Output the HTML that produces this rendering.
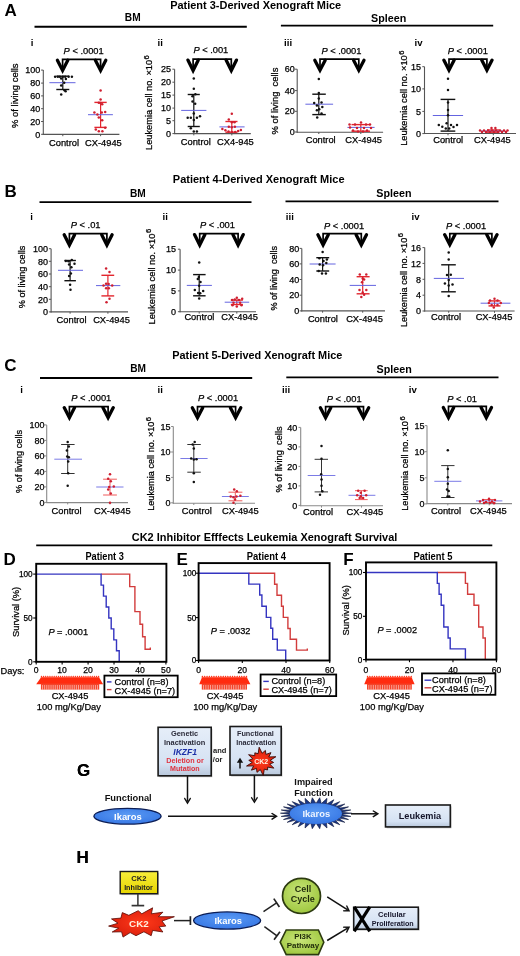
<!DOCTYPE html>
<html><head><meta charset="utf-8"><title>CK2 inhibitor xenograft figure</title>
<style>
html,body{margin:0;padding:0;background:#fff;}
body{width:520px;height:956px;overflow:hidden;}
svg{display:block;font-family:"Liberation Sans", sans-serif;will-change:transform;}
</style></head><body>
<svg width="520" height="956" viewBox="0 0 520 956">
<rect x="0" y="0" width="520" height="956" fill="#fff"/>
<text x="4.6" y="15.6" font-size="17" font-weight="bold">A</text>
<text x="4.6" y="196.8" font-size="17" font-weight="bold">B</text>
<text x="4.3" y="371.3" font-size="17" font-weight="bold">C</text>
<text x="3.6" y="565.4" font-size="17" font-weight="bold">D</text>
<text x="176.6" y="565.2" font-size="17" font-weight="bold">E</text>
<text x="343.2" y="565.2" font-size="17" font-weight="bold">F</text>
<text x="77" y="775.6" font-size="17" font-weight="bold">G</text>
<text x="76.4" y="862.6" font-size="17" font-weight="bold">H</text>
<text x="170.2" y="8.7" font-size="10.9" font-weight="bold" textLength="171" lengthAdjust="spacingAndGlyphs">Patient 3-Derived Xenograft Mice</text>
<text x="172.8" y="182.8" font-size="10.9" font-weight="bold" textLength="171.7" lengthAdjust="spacingAndGlyphs">Patient 4-Derived Xenograft Mice</text>
<text x="172.2" y="358.6" font-size="10.9" font-weight="bold" textLength="170.1" lengthAdjust="spacingAndGlyphs">Patient 5-Derived Xenograft Mice</text>
<text x="124.8" y="21.1" font-size="10.6" font-weight="bold" textLength="15.8" lengthAdjust="spacingAndGlyphs">BM</text>
<text x="371.1" y="21.8" font-size="10.8" font-weight="bold" textLength="35.2" lengthAdjust="spacingAndGlyphs">Spleen</text>
<line x1="34.5" y1="26.8" x2="246.8" y2="26.8" stroke="#000" stroke-width="1.9"/>
<line x1="280.9" y1="25.6" x2="493.2" y2="25.6" stroke="#000" stroke-width="1.9"/>
<text x="130" y="196.5" font-size="10.6" font-weight="bold" textLength="15.8" lengthAdjust="spacingAndGlyphs">BM</text>
<text x="376.3" y="197.2" font-size="10.8" font-weight="bold" textLength="35.2" lengthAdjust="spacingAndGlyphs">Spleen</text>
<line x1="39.5" y1="202.1" x2="251.5" y2="202.1" stroke="#000" stroke-width="1.9"/>
<line x1="285.5" y1="201.4" x2="498.5" y2="201.4" stroke="#000" stroke-width="1.9"/>
<text x="130.2" y="372.3" font-size="10.6" font-weight="bold" textLength="15.8" lengthAdjust="spacingAndGlyphs">BM</text>
<text x="376.6" y="373.4" font-size="10.8" font-weight="bold" textLength="35.2" lengthAdjust="spacingAndGlyphs">Spleen</text>
<line x1="40" y1="378" x2="252.2" y2="378" stroke="#000" stroke-width="1.9"/>
<line x1="286.3" y1="377.4" x2="498.5" y2="377.4" stroke="#000" stroke-width="1.9"/>
<text x="131.8" y="541.1" font-size="10.9" font-weight="bold" textLength="265.5" lengthAdjust="spacingAndGlyphs">CK2 Inhibitor Efffects Leukemia Xenograft Survival</text>
<line x1="36.2" y1="545.4" x2="492.3" y2="545.4" stroke="#000" stroke-width="1.9"/>
<text x="30.8" y="45.7" font-size="9.6" font-weight="bold">i</text>
<text x="63.6" y="53.9" font-size="9.3" stroke="#000" stroke-width="0.25"><tspan font-style="italic">P</tspan> &lt; .0001</text>
<path d="M57.4,60.3 L62.6,70.4 L67.8,60.3" fill="none" stroke="#000" stroke-width="3.3" stroke-linejoin="miter" stroke-miterlimit="10" stroke-linecap="round"/>
<path d="M95.4,60.3 L100.6,70.4 L105.8,60.3" fill="none" stroke="#000" stroke-width="3.3" stroke-linejoin="miter" stroke-miterlimit="10" stroke-linecap="round"/>
<path d="M62.6,70.2 V59.3 H100.6 V70.2" fill="none" stroke="#000" stroke-width="1.7"/>
<line x1="43.3" y1="70.1" x2="43.3" y2="134.9" stroke="#555" stroke-width="1.1"/>
<line x1="42.8" y1="134.4" x2="119.4" y2="134.4" stroke="#555" stroke-width="1.1"/>
<line x1="41.1" y1="134.3" x2="43.3" y2="134.3" stroke="#555" stroke-width="1"/>
<text x="40.3" y="137.5" font-size="9" text-anchor="end" stroke="#000" stroke-width="0.25">0</text>
<line x1="41.1" y1="121.5" x2="43.3" y2="121.5" stroke="#555" stroke-width="1"/>
<text x="40.3" y="124.69" font-size="9" text-anchor="end" stroke="#000" stroke-width="0.25">20</text>
<line x1="41.1" y1="108.7" x2="43.3" y2="108.7" stroke="#555" stroke-width="1"/>
<text x="40.3" y="111.89" font-size="9" text-anchor="end" stroke="#000" stroke-width="0.25">40</text>
<line x1="41.1" y1="95.9" x2="43.3" y2="95.9" stroke="#555" stroke-width="1"/>
<text x="40.3" y="99.09" font-size="9" text-anchor="end" stroke="#000" stroke-width="0.25">60</text>
<line x1="41.1" y1="83.1" x2="43.3" y2="83.1" stroke="#555" stroke-width="1"/>
<text x="40.3" y="86.29" font-size="9" text-anchor="end" stroke="#000" stroke-width="0.25">80</text>
<line x1="41.1" y1="70.1" x2="43.3" y2="70.1" stroke="#555" stroke-width="1"/>
<text x="40.3" y="73.29" font-size="9" text-anchor="end" stroke="#000" stroke-width="0.25">100</text>
<line x1="62.8" y1="134.4" x2="62.8" y2="136.2" stroke="#555" stroke-width="1"/>
<line x1="100.6" y1="134.4" x2="100.6" y2="136.2" stroke="#555" stroke-width="1"/>
<g transform="translate(17.8,128) rotate(-90)"><text x="0" y="0" font-size="9.3" textLength="64.6" lengthAdjust="spacingAndGlyphs" stroke="#000" stroke-width="0.25">% of living cells</text></g>
<text x="64" y="146" font-size="9.3" text-anchor="middle" stroke="#000" stroke-width="0.25">Control</text>
<text x="103.4" y="146" font-size="9.3" text-anchor="middle" stroke="#000" stroke-width="0.25">CX-4945</text>
<line x1="62.8" y1="76.2" x2="62.8" y2="89.5" stroke="#111" stroke-width="1.2"/>
<line x1="56.3" y1="76.2" x2="69.3" y2="76.2" stroke="#111" stroke-width="1.4"/>
<line x1="56.3" y1="89.5" x2="69.3" y2="89.5" stroke="#111" stroke-width="1.4"/>
<line x1="49.4" y1="82.7" x2="75.5" y2="82.7" stroke="#6464e0" stroke-width="1"/>
<circle cx="55.1" cy="76.7" r="1.25" fill="#111"/>
<circle cx="57.8" cy="76.7" r="1.25" fill="#111"/>
<circle cx="59.8" cy="76.7" r="1.25" fill="#111"/>
<circle cx="62.8" cy="76.7" r="1.25" fill="#111"/>
<circle cx="65.2" cy="76.7" r="1.25" fill="#111"/>
<circle cx="68.6" cy="76.7" r="1.25" fill="#111"/>
<circle cx="71.9" cy="76.7" r="1.25" fill="#111"/>
<circle cx="61.2" cy="78.4" r="1.25" fill="#111"/>
<circle cx="65.9" cy="79.1" r="1.25" fill="#111"/>
<circle cx="64.2" cy="82.7" r="1.25" fill="#111"/>
<circle cx="61.2" cy="85.5" r="1.25" fill="#111"/>
<circle cx="64.5" cy="90.2" r="1.25" fill="#111"/>
<circle cx="65.6" cy="91.2" r="1.25" fill="#111"/>
<circle cx="61.2" cy="94.6" r="1.25" fill="#111"/>
<line x1="100.6" y1="102.4" x2="100.6" y2="127.4" stroke="#e3262e" stroke-width="1.2"/>
<line x1="94.4" y1="102.4" x2="106.7" y2="102.4" stroke="#e3262e" stroke-width="1.4"/>
<line x1="94.4" y1="127.4" x2="106.7" y2="127.4" stroke="#e3262e" stroke-width="1.4"/>
<line x1="88" y1="114.7" x2="112.9" y2="114.7" stroke="#6464e0" stroke-width="1"/>
<circle cx="100.6" cy="90.4" r="1.25" fill="#cf1f30"/>
<circle cx="100.6" cy="99.5" r="1.25" fill="#cf1f30"/>
<circle cx="98.8" cy="102.8" r="1.25" fill="#cf1f30"/>
<circle cx="102.2" cy="104.2" r="1.25" fill="#cf1f30"/>
<circle cx="100.5" cy="103" r="1.25" fill="#cf1f30"/>
<circle cx="94.4" cy="112.5" r="1.25" fill="#cf1f30"/>
<circle cx="101.8" cy="112.5" r="1.25" fill="#cf1f30"/>
<circle cx="105.2" cy="112" r="1.25" fill="#cf1f30"/>
<circle cx="97.4" cy="114.6" r="1.25" fill="#cf1f30"/>
<circle cx="98.8" cy="117.6" r="1.25" fill="#cf1f30"/>
<circle cx="102.2" cy="120.3" r="1.25" fill="#cf1f30"/>
<circle cx="95.8" cy="129.4" r="1.25" fill="#cf1f30"/>
<circle cx="98.8" cy="131.3" r="1.25" fill="#cf1f30"/>
<circle cx="102.4" cy="131.3" r="1.25" fill="#cf1f30"/>
<circle cx="105.2" cy="127.7" r="1.25" fill="#cf1f30"/>
<text x="157.6" y="45.7" font-size="9.6" font-weight="bold">ii</text>
<text x="193.4" y="53.2" font-size="9.3" stroke="#000" stroke-width="0.25"><tspan font-style="italic">P</tspan> &lt; .001</text>
<path d="M187.9,60.1 L193.1,70.6 L198.3,60.1" fill="none" stroke="#000" stroke-width="3.3" stroke-linejoin="miter" stroke-miterlimit="10" stroke-linecap="round"/>
<path d="M226.1,60.1 L231.3,70.6 L236.5,60.1" fill="none" stroke="#000" stroke-width="3.3" stroke-linejoin="miter" stroke-miterlimit="10" stroke-linecap="round"/>
<path d="M193.1,70.4 V59.1 H231.3 V70.4" fill="none" stroke="#000" stroke-width="1.7"/>
<line x1="174.6" y1="69.2" x2="174.6" y2="134.1" stroke="#555" stroke-width="1.1"/>
<line x1="174.1" y1="133.6" x2="250.8" y2="133.6" stroke="#555" stroke-width="1.1"/>
<line x1="172.4" y1="133.6" x2="174.6" y2="133.6" stroke="#555" stroke-width="1"/>
<text x="170.9" y="136.79" font-size="9" text-anchor="end" stroke="#000" stroke-width="0.25">0</text>
<line x1="172.4" y1="120.7" x2="174.6" y2="120.7" stroke="#555" stroke-width="1"/>
<text x="170.9" y="123.89" font-size="9" text-anchor="end" stroke="#000" stroke-width="0.25">5</text>
<line x1="172.4" y1="108.1" x2="174.6" y2="108.1" stroke="#555" stroke-width="1"/>
<text x="170.9" y="111.29" font-size="9" text-anchor="end" stroke="#000" stroke-width="0.25">10</text>
<line x1="172.4" y1="95.1" x2="174.6" y2="95.1" stroke="#555" stroke-width="1"/>
<text x="170.9" y="98.29" font-size="9" text-anchor="end" stroke="#000" stroke-width="0.25">15</text>
<line x1="172.4" y1="82.2" x2="174.6" y2="82.2" stroke="#555" stroke-width="1"/>
<text x="170.9" y="85.39" font-size="9" text-anchor="end" stroke="#000" stroke-width="0.25">20</text>
<line x1="172.4" y1="69.2" x2="174.6" y2="69.2" stroke="#555" stroke-width="1"/>
<text x="170.9" y="72.39" font-size="9" text-anchor="end" stroke="#000" stroke-width="0.25">25</text>
<line x1="193.8" y1="133.6" x2="193.8" y2="135.4" stroke="#555" stroke-width="1"/>
<line x1="231.8" y1="133.6" x2="231.8" y2="135.4" stroke="#555" stroke-width="1"/>
<g transform="translate(151.9,149.9) rotate(-90)"><text x="0" y="0" font-size="9.3" textLength="90" lengthAdjust="spacingAndGlyphs" stroke="#000" stroke-width="0.25">Leukemia cell no. ×10</text></g>
<g transform="translate(148.7,59.5) rotate(-90)"><text x="0" y="0" font-size="7.6" stroke="#000" stroke-width="0.25">6</text></g>
<text x="195.8" y="145.4" font-size="9.3" text-anchor="middle" stroke="#000" stroke-width="0.25">Control</text>
<text x="235.4" y="145.4" font-size="9.3" text-anchor="middle" stroke="#000" stroke-width="0.25">CX4-945</text>
<line x1="193.8" y1="94.5" x2="193.8" y2="126.5" stroke="#111" stroke-width="1.2"/>
<line x1="187.7" y1="94.5" x2="199.8" y2="94.5" stroke="#111" stroke-width="1.4"/>
<line x1="187.7" y1="126.5" x2="199.8" y2="126.5" stroke="#111" stroke-width="1.4"/>
<line x1="181.2" y1="110.4" x2="206.4" y2="110.4" stroke="#6464e0" stroke-width="1"/>
<circle cx="193.8" cy="78.6" r="1.25" fill="#111"/>
<circle cx="193.8" cy="88.8" r="1.25" fill="#111"/>
<circle cx="195.4" cy="94.2" r="1.25" fill="#111"/>
<circle cx="192.5" cy="96.2" r="1.25" fill="#111"/>
<circle cx="192.5" cy="101.5" r="1.25" fill="#111"/>
<circle cx="195.2" cy="103.7" r="1.25" fill="#111"/>
<circle cx="193.8" cy="113.5" r="1.25" fill="#111"/>
<circle cx="187.7" cy="117.8" r="1.25" fill="#111"/>
<circle cx="190.8" cy="117.8" r="1.25" fill="#111"/>
<circle cx="196.9" cy="117.8" r="1.25" fill="#111"/>
<circle cx="200" cy="116.3" r="1.25" fill="#111"/>
<circle cx="193.8" cy="120" r="1.25" fill="#111"/>
<circle cx="190.8" cy="128.3" r="1.25" fill="#111"/>
<circle cx="193.8" cy="131.5" r="1.25" fill="#111"/>
<circle cx="196.9" cy="131.5" r="1.25" fill="#111"/>
<line x1="231.8" y1="121.5" x2="231.8" y2="132.2" stroke="#e3262e" stroke-width="1.2"/>
<line x1="225.4" y1="121.5" x2="237.5" y2="121.5" stroke="#e3262e" stroke-width="1.4"/>
<line x1="225.4" y1="132.2" x2="237.5" y2="132.2" stroke="#e3262e" stroke-width="1.4"/>
<line x1="219.4" y1="126.9" x2="244.6" y2="126.9" stroke="#6464e0" stroke-width="1"/>
<circle cx="231.8" cy="113.7" r="1.25" fill="#cf1f30"/>
<circle cx="228.8" cy="119.5" r="1.25" fill="#cf1f30"/>
<circle cx="231.8" cy="122.2" r="1.25" fill="#cf1f30"/>
<circle cx="234.5" cy="122.2" r="1.25" fill="#cf1f30"/>
<circle cx="228.8" cy="126.7" r="1.25" fill="#cf1f30"/>
<circle cx="231.8" cy="127.2" r="1.25" fill="#cf1f30"/>
<circle cx="234.9" cy="126.7" r="1.25" fill="#cf1f30"/>
<circle cx="222.4" cy="128.9" r="1.25" fill="#cf1f30"/>
<circle cx="225.4" cy="130.2" r="1.25" fill="#cf1f30"/>
<circle cx="228.5" cy="131.6" r="1.25" fill="#cf1f30"/>
<circle cx="231.8" cy="131.9" r="1.25" fill="#cf1f30"/>
<circle cx="235.2" cy="131.9" r="1.25" fill="#cf1f30"/>
<circle cx="238.2" cy="130.9" r="1.25" fill="#cf1f30"/>
<circle cx="240.9" cy="129.9" r="1.25" fill="#cf1f30"/>
<text x="284.1" y="45.7" font-size="9.6" font-weight="bold">iii</text>
<text x="321.4" y="53.9" font-size="9.3" stroke="#000" stroke-width="0.25"><tspan font-style="italic">P</tspan> &lt; .0001</text>
<path d="M314.8,60.2 L320,70.2 L325.2,60.2" fill="none" stroke="#000" stroke-width="3.3" stroke-linejoin="miter" stroke-miterlimit="10" stroke-linecap="round"/>
<path d="M353.6,60.2 L358.8,70.2 L364,60.2" fill="none" stroke="#000" stroke-width="3.3" stroke-linejoin="miter" stroke-miterlimit="10" stroke-linecap="round"/>
<path d="M320,70 V59.2 H358.8 V70" fill="none" stroke="#000" stroke-width="1.7"/>
<line x1="297.2" y1="69.2" x2="297.2" y2="132.7" stroke="#555" stroke-width="1.1"/>
<line x1="296.7" y1="132.2" x2="383.1" y2="132.2" stroke="#555" stroke-width="1.1"/>
<line x1="295" y1="132" x2="297.2" y2="132" stroke="#555" stroke-width="1"/>
<text x="294.7" y="135.19" font-size="9" text-anchor="end" stroke="#000" stroke-width="0.25">0</text>
<line x1="295" y1="111.3" x2="297.2" y2="111.3" stroke="#555" stroke-width="1"/>
<text x="294.7" y="114.49" font-size="9" text-anchor="end" stroke="#000" stroke-width="0.25">20</text>
<line x1="295" y1="90.6" x2="297.2" y2="90.6" stroke="#555" stroke-width="1"/>
<text x="294.7" y="93.79" font-size="9" text-anchor="end" stroke="#000" stroke-width="0.25">40</text>
<line x1="295" y1="69.2" x2="297.2" y2="69.2" stroke="#555" stroke-width="1"/>
<text x="294.7" y="72.39" font-size="9" text-anchor="end" stroke="#000" stroke-width="0.25">60</text>
<line x1="318.8" y1="132.2" x2="318.8" y2="134" stroke="#555" stroke-width="1"/>
<line x1="360.8" y1="132.2" x2="360.8" y2="134" stroke="#555" stroke-width="1"/>
<g transform="translate(278,134.5) rotate(-90)"><text x="0" y="0" font-size="9.3" textLength="66.9" lengthAdjust="spacingAndGlyphs" stroke="#000" stroke-width="0.25">% of living&#160;&#160;cells</text></g>
<text x="320.7" y="143" font-size="9.3" text-anchor="middle" stroke="#000" stroke-width="0.25">Control</text>
<text x="363.7" y="143" font-size="9.3" text-anchor="middle" stroke="#000" stroke-width="0.25">CX-4945</text>
<line x1="318.8" y1="94.2" x2="318.8" y2="114.6" stroke="#111" stroke-width="1.2"/>
<line x1="312.3" y1="94.2" x2="325.8" y2="94.2" stroke="#111" stroke-width="1.4"/>
<line x1="312.3" y1="114.6" x2="325.8" y2="114.6" stroke="#111" stroke-width="1.4"/>
<line x1="305.4" y1="104.2" x2="333.1" y2="104.2" stroke="#6464e0" stroke-width="1"/>
<circle cx="318.8" cy="78.9" r="1.25" fill="#111"/>
<circle cx="318.8" cy="93" r="1.25" fill="#111"/>
<circle cx="318.8" cy="98.5" r="1.25" fill="#111"/>
<circle cx="314.2" cy="103" r="1.25" fill="#111"/>
<circle cx="321.5" cy="102.6" r="1.25" fill="#111"/>
<circle cx="316.9" cy="105.4" r="1.25" fill="#111"/>
<circle cx="322.3" cy="106.9" r="1.25" fill="#111"/>
<circle cx="316.9" cy="110.3" r="1.25" fill="#111"/>
<circle cx="319.2" cy="109.2" r="1.25" fill="#111"/>
<circle cx="321.5" cy="113.4" r="1.25" fill="#111"/>
<circle cx="317.2" cy="117.4" r="1.25" fill="#111"/>
<line x1="360.8" y1="124.6" x2="360.8" y2="131.2" stroke="#e3262e" stroke-width="1.2"/>
<line x1="351.5" y1="124.6" x2="370" y2="124.6" stroke="#e3262e" stroke-width="1.4"/>
<line x1="351.5" y1="131.2" x2="370" y2="131.2" stroke="#e3262e" stroke-width="1.4"/>
<line x1="347.4" y1="127.4" x2="374.6" y2="127.4" stroke="#6464e0" stroke-width="1"/>
<circle cx="349.5" cy="124.6" r="1.25" fill="#cf1f30"/>
<circle cx="355" cy="124.6" r="1.25" fill="#cf1f30"/>
<circle cx="361" cy="122.5" r="1.25" fill="#cf1f30"/>
<circle cx="366" cy="124.6" r="1.25" fill="#cf1f30"/>
<circle cx="370" cy="124.6" r="1.25" fill="#cf1f30"/>
<circle cx="350" cy="127.5" r="1.25" fill="#cf1f30"/>
<circle cx="357" cy="128" r="1.25" fill="#cf1f30"/>
<circle cx="364" cy="128" r="1.25" fill="#cf1f30"/>
<circle cx="371" cy="128" r="1.25" fill="#cf1f30"/>
<circle cx="353" cy="130.5" r="1.25" fill="#cf1f30"/>
<circle cx="358" cy="131.5" r="1.25" fill="#cf1f30"/>
<circle cx="363" cy="131.5" r="1.25" fill="#cf1f30"/>
<circle cx="367" cy="130.5" r="1.25" fill="#cf1f30"/>
<text x="414.6" y="45.7" font-size="9.6" font-weight="bold">iv</text>
<text x="447.8" y="54" font-size="9.3" stroke="#000" stroke-width="0.25"><tspan font-style="italic">P</tspan> &lt; .0001</text>
<path d="M443.8,60.1 L449,70.1 L454.2,60.1" fill="none" stroke="#000" stroke-width="3.3" stroke-linejoin="miter" stroke-miterlimit="10" stroke-linecap="round"/>
<path d="M481.7,60.1 L486.9,70.1 L492.1,60.1" fill="none" stroke="#000" stroke-width="3.3" stroke-linejoin="miter" stroke-miterlimit="10" stroke-linecap="round"/>
<path d="M449,69.9 V59.1 H486.9 V69.9" fill="none" stroke="#000" stroke-width="1.7"/>
<line x1="424.5" y1="66.7" x2="424.5" y2="134" stroke="#555" stroke-width="1.1"/>
<line x1="424" y1="133.5" x2="516" y2="133.5" stroke="#555" stroke-width="1.1"/>
<line x1="422.3" y1="133.6" x2="424.5" y2="133.6" stroke="#555" stroke-width="1"/>
<text x="421" y="136.79" font-size="9" text-anchor="end" stroke="#000" stroke-width="0.25">0</text>
<line x1="422.3" y1="111.4" x2="424.5" y2="111.4" stroke="#555" stroke-width="1"/>
<text x="421" y="114.59" font-size="9" text-anchor="end" stroke="#000" stroke-width="0.25">5</text>
<line x1="422.3" y1="88.9" x2="424.5" y2="88.9" stroke="#555" stroke-width="1"/>
<text x="421" y="92.09" font-size="9" text-anchor="end" stroke="#000" stroke-width="0.25">10</text>
<line x1="422.3" y1="66.7" x2="424.5" y2="66.7" stroke="#555" stroke-width="1"/>
<text x="421" y="69.89" font-size="9" text-anchor="end" stroke="#000" stroke-width="0.25">15</text>
<line x1="448" y1="133.5" x2="448" y2="135.3" stroke="#555" stroke-width="1"/>
<line x1="493.3" y1="133.5" x2="493.3" y2="135.3" stroke="#555" stroke-width="1"/>
<g transform="translate(406.8,145.8) rotate(-90)"><text x="0" y="0" font-size="9.3" textLength="90.6" lengthAdjust="spacingAndGlyphs" stroke="#000" stroke-width="0.25">Leukemia cell no. ×10</text></g>
<g transform="translate(403.6,54.8) rotate(-90)"><text x="0" y="0" font-size="7.6" stroke="#000" stroke-width="0.25">6</text></g>
<text x="448.2" y="143" font-size="9.3" text-anchor="middle" stroke="#000" stroke-width="0.25">Control</text>
<text x="492.4" y="143" font-size="9.3" text-anchor="middle" stroke="#000" stroke-width="0.25">CX-4945</text>
<line x1="448" y1="99.4" x2="448" y2="131.1" stroke="#111" stroke-width="1.2"/>
<line x1="440.6" y1="99.4" x2="455.3" y2="99.4" stroke="#111" stroke-width="1.4"/>
<line x1="440.6" y1="131.1" x2="455.3" y2="131.1" stroke="#111" stroke-width="1.4"/>
<line x1="432.8" y1="115.5" x2="463.1" y2="115.5" stroke="#6464e0" stroke-width="1"/>
<circle cx="448" cy="78.7" r="1.25" fill="#111"/>
<circle cx="448" cy="89.9" r="1.25" fill="#111"/>
<circle cx="448" cy="102.5" r="1.25" fill="#111"/>
<circle cx="448" cy="110.1" r="1.25" fill="#111"/>
<circle cx="448" cy="115.3" r="1.25" fill="#111"/>
<circle cx="438.8" cy="125" r="1.25" fill="#111"/>
<circle cx="442.3" cy="126.7" r="1.25" fill="#111"/>
<circle cx="446.6" cy="123.3" r="1.25" fill="#111"/>
<circle cx="451" cy="125" r="1.25" fill="#111"/>
<circle cx="453.5" cy="127.1" r="1.25" fill="#111"/>
<circle cx="457" cy="125" r="1.25" fill="#111"/>
<circle cx="445.8" cy="128.5" r="1.25" fill="#111"/>
<circle cx="449.2" cy="128.5" r="1.25" fill="#111"/>
<line x1="493.3" y1="130" x2="493.3" y2="132.2" stroke="#e3262e" stroke-width="1.2"/>
<line x1="487" y1="130" x2="499.5" y2="130" stroke="#e3262e" stroke-width="1.4"/>
<line x1="487" y1="132.2" x2="499.5" y2="132.2" stroke="#e3262e" stroke-width="1.4"/>
<line x1="481" y1="131" x2="505" y2="131" stroke="#6464e0" stroke-width="1"/>
<circle cx="491.5" cy="128.1" r="1.25" fill="#cf1f30"/>
<circle cx="495.4" cy="128.1" r="1.25" fill="#cf1f30"/>
<circle cx="480" cy="130.5" r="1.25" fill="#cf1f30"/>
<circle cx="484" cy="130.5" r="1.25" fill="#cf1f30"/>
<circle cx="488" cy="130.5" r="1.25" fill="#cf1f30"/>
<circle cx="492" cy="130.5" r="1.25" fill="#cf1f30"/>
<circle cx="496" cy="130.5" r="1.25" fill="#cf1f30"/>
<circle cx="500" cy="130.5" r="1.25" fill="#cf1f30"/>
<circle cx="504" cy="130.5" r="1.25" fill="#cf1f30"/>
<circle cx="507.5" cy="130.5" r="1.25" fill="#cf1f30"/>
<circle cx="482" cy="132" r="1.25" fill="#cf1f30"/>
<circle cx="486" cy="132" r="1.25" fill="#cf1f30"/>
<circle cx="490" cy="132" r="1.25" fill="#cf1f30"/>
<circle cx="494" cy="132" r="1.25" fill="#cf1f30"/>
<circle cx="498" cy="132" r="1.25" fill="#cf1f30"/>
<circle cx="502" cy="132" r="1.25" fill="#cf1f30"/>
<circle cx="506" cy="132" r="1.25" fill="#cf1f30"/>
<text x="30.3" y="219.7" font-size="9.6" font-weight="bold">i</text>
<text x="70.8" y="228" font-size="9.3" stroke="#000" stroke-width="0.25"><tspan font-style="italic">P</tspan> &lt; .01</text>
<path d="M64.2,234.7 L69.4,245.1 L74.6,234.7" fill="none" stroke="#000" stroke-width="3.3" stroke-linejoin="miter" stroke-miterlimit="10" stroke-linecap="round"/>
<path d="M101.7,234.7 L106.9,245.1 L112.1,234.7" fill="none" stroke="#000" stroke-width="3.3" stroke-linejoin="miter" stroke-miterlimit="10" stroke-linecap="round"/>
<path d="M69.4,244.9 V233.7 H106.9 V244.9" fill="none" stroke="#000" stroke-width="1.7"/>
<line x1="51.1" y1="248.7" x2="51.1" y2="312.4" stroke="#555" stroke-width="1.1"/>
<line x1="50.6" y1="311.9" x2="128" y2="311.9" stroke="#555" stroke-width="1.1"/>
<line x1="48.9" y1="311.9" x2="51.1" y2="311.9" stroke="#555" stroke-width="1"/>
<text x="48.1" y="315.09" font-size="9" text-anchor="end" stroke="#000" stroke-width="0.25">0</text>
<line x1="48.9" y1="299.3" x2="51.1" y2="299.3" stroke="#555" stroke-width="1"/>
<text x="48.1" y="302.5" font-size="9" text-anchor="end" stroke="#000" stroke-width="0.25">20</text>
<line x1="48.9" y1="286.7" x2="51.1" y2="286.7" stroke="#555" stroke-width="1"/>
<text x="48.1" y="289.89" font-size="9" text-anchor="end" stroke="#000" stroke-width="0.25">40</text>
<line x1="48.9" y1="274" x2="51.1" y2="274" stroke="#555" stroke-width="1"/>
<text x="48.1" y="277.19" font-size="9" text-anchor="end" stroke="#000" stroke-width="0.25">60</text>
<line x1="48.9" y1="261.3" x2="51.1" y2="261.3" stroke="#555" stroke-width="1"/>
<text x="48.1" y="264.5" font-size="9" text-anchor="end" stroke="#000" stroke-width="0.25">80</text>
<line x1="48.9" y1="248.7" x2="51.1" y2="248.7" stroke="#555" stroke-width="1"/>
<text x="48.1" y="251.89" font-size="9" text-anchor="end" stroke="#000" stroke-width="0.25">100</text>
<line x1="70.1" y1="311.9" x2="70.1" y2="313.7" stroke="#555" stroke-width="1"/>
<line x1="107.9" y1="311.9" x2="107.9" y2="313.7" stroke="#555" stroke-width="1"/>
<g transform="translate(25.2,308.3) rotate(-90)"><text x="0" y="0" font-size="9.3" textLength="62.6" lengthAdjust="spacingAndGlyphs" stroke="#000" stroke-width="0.25">% of living cells</text></g>
<text x="71.6" y="322.5" font-size="9.3" text-anchor="middle" stroke="#000" stroke-width="0.25">Control</text>
<text x="111.5" y="322.5" font-size="9.3" text-anchor="middle" stroke="#000" stroke-width="0.25">CX-4945</text>
<line x1="70.1" y1="260.5" x2="70.1" y2="280.7" stroke="#111" stroke-width="1.2"/>
<line x1="64.4" y1="260.5" x2="75.9" y2="260.5" stroke="#111" stroke-width="1.4"/>
<line x1="64.4" y1="280.7" x2="75.9" y2="280.7" stroke="#111" stroke-width="1.4"/>
<line x1="58" y1="270.3" x2="83" y2="270.3" stroke="#6464e0" stroke-width="1"/>
<circle cx="65.8" cy="260.9" r="1.25" fill="#111"/>
<circle cx="68.5" cy="261.2" r="1.25" fill="#111"/>
<circle cx="71.8" cy="260.1" r="1.25" fill="#111"/>
<circle cx="74.5" cy="263.8" r="1.25" fill="#111"/>
<circle cx="69.1" cy="264.5" r="1.25" fill="#111"/>
<circle cx="71.4" cy="267.2" r="1.25" fill="#111"/>
<circle cx="70.9" cy="273.5" r="1.25" fill="#111"/>
<circle cx="69.1" cy="276" r="1.25" fill="#111"/>
<circle cx="70.1" cy="284.7" r="1.25" fill="#111"/>
<circle cx="70.5" cy="289.7" r="1.25" fill="#111"/>
<line x1="107.9" y1="275.3" x2="107.9" y2="295.9" stroke="#e3262e" stroke-width="1.2"/>
<line x1="101.4" y1="275.3" x2="114.2" y2="275.3" stroke="#e3262e" stroke-width="1.4"/>
<line x1="101.4" y1="295.9" x2="114.2" y2="295.9" stroke="#e3262e" stroke-width="1.4"/>
<line x1="96" y1="285.6" x2="120.3" y2="285.6" stroke="#6464e0" stroke-width="1"/>
<circle cx="106.1" cy="268.6" r="1.25" fill="#cf1f30"/>
<circle cx="109.5" cy="271.9" r="1.25" fill="#cf1f30"/>
<circle cx="106.1" cy="283.8" r="1.25" fill="#cf1f30"/>
<circle cx="108.6" cy="284" r="1.25" fill="#cf1f30"/>
<circle cx="103.5" cy="285.6" r="1.25" fill="#cf1f30"/>
<circle cx="112.2" cy="285.6" r="1.25" fill="#cf1f30"/>
<circle cx="106.1" cy="288.3" r="1.25" fill="#cf1f30"/>
<circle cx="108.8" cy="288.3" r="1.25" fill="#cf1f30"/>
<circle cx="109.5" cy="298.8" r="1.25" fill="#cf1f30"/>
<circle cx="106.5" cy="302.2" r="1.25" fill="#cf1f30"/>
<text x="162.6" y="219.7" font-size="9.6" font-weight="bold">ii</text>
<text x="200" y="227.6" font-size="9.3" stroke="#000" stroke-width="0.25"><tspan font-style="italic">P</tspan> &lt; .001</text>
<path d="M194.5,234.6 L199.7,245.1 L204.9,234.6" fill="none" stroke="#000" stroke-width="3.3" stroke-linejoin="miter" stroke-miterlimit="10" stroke-linecap="round"/>
<path d="M232.9,234.6 L238.1,245.1 L243.3,234.6" fill="none" stroke="#000" stroke-width="3.3" stroke-linejoin="miter" stroke-miterlimit="10" stroke-linecap="round"/>
<path d="M199.7,244.9 V233.6 H238.1 V244.9" fill="none" stroke="#000" stroke-width="1.7"/>
<line x1="180.1" y1="249.2" x2="180.1" y2="312.3" stroke="#555" stroke-width="1.1"/>
<line x1="179.6" y1="311.8" x2="256" y2="311.8" stroke="#555" stroke-width="1.1"/>
<line x1="177.9" y1="311.7" x2="180.1" y2="311.7" stroke="#555" stroke-width="1"/>
<text x="175.9" y="314.89" font-size="9" text-anchor="end" stroke="#000" stroke-width="0.25">0</text>
<line x1="177.9" y1="290.9" x2="180.1" y2="290.9" stroke="#555" stroke-width="1"/>
<text x="175.9" y="294.09" font-size="9" text-anchor="end" stroke="#000" stroke-width="0.25">5</text>
<line x1="177.9" y1="270.1" x2="180.1" y2="270.1" stroke="#555" stroke-width="1"/>
<text x="175.9" y="273.3" font-size="9" text-anchor="end" stroke="#000" stroke-width="0.25">10</text>
<line x1="177.9" y1="249.2" x2="180.1" y2="249.2" stroke="#555" stroke-width="1"/>
<text x="175.9" y="252.39" font-size="9" text-anchor="end" stroke="#000" stroke-width="0.25">15</text>
<line x1="199.2" y1="311.8" x2="199.2" y2="313.6" stroke="#555" stroke-width="1"/>
<line x1="236.8" y1="311.8" x2="236.8" y2="313.6" stroke="#555" stroke-width="1"/>
<g transform="translate(154.6,324.5) rotate(-90)"><text x="0" y="0" font-size="9.3" textLength="91" lengthAdjust="spacingAndGlyphs" stroke="#000" stroke-width="0.25">Leukemia cell no. ×10</text></g>
<g transform="translate(151.4,233.1) rotate(-90)"><text x="0" y="0" font-size="7.6" stroke="#000" stroke-width="0.25">6</text></g>
<text x="199.4" y="320" font-size="9.3" text-anchor="middle" stroke="#000" stroke-width="0.25">Control</text>
<text x="239.6" y="320" font-size="9.3" text-anchor="middle" stroke="#000" stroke-width="0.25">CX-4945</text>
<line x1="199.2" y1="274.6" x2="199.2" y2="295.8" stroke="#111" stroke-width="1.2"/>
<line x1="193.1" y1="274.6" x2="205.6" y2="274.6" stroke="#111" stroke-width="1.4"/>
<line x1="193.1" y1="295.8" x2="205.6" y2="295.8" stroke="#111" stroke-width="1.4"/>
<line x1="186.8" y1="285.4" x2="211.9" y2="285.4" stroke="#6464e0" stroke-width="1"/>
<circle cx="199.2" cy="262.4" r="1.25" fill="#111"/>
<circle cx="198.9" cy="276.9" r="1.25" fill="#111"/>
<circle cx="197.8" cy="278.9" r="1.25" fill="#111"/>
<circle cx="200.5" cy="282" r="1.25" fill="#111"/>
<circle cx="199.2" cy="285.7" r="1.25" fill="#111"/>
<circle cx="194.8" cy="290.1" r="1.25" fill="#111"/>
<circle cx="203.2" cy="291" r="1.25" fill="#111"/>
<circle cx="198.1" cy="293.1" r="1.25" fill="#111"/>
<circle cx="200.2" cy="293.3" r="1.25" fill="#111"/>
<circle cx="199.2" cy="298.5" r="1.25" fill="#111"/>
<line x1="236.8" y1="300.1" x2="236.8" y2="304.5" stroke="#e3262e" stroke-width="1.2"/>
<line x1="230.8" y1="300.1" x2="242.9" y2="300.1" stroke="#e3262e" stroke-width="1.4"/>
<line x1="230.8" y1="304.5" x2="242.9" y2="304.5" stroke="#e3262e" stroke-width="1.4"/>
<line x1="224.7" y1="302.2" x2="249.2" y2="302.2" stroke="#6464e0" stroke-width="1"/>
<circle cx="236.8" cy="297.8" r="1.25" fill="#cf1f30"/>
<circle cx="232.1" cy="300.1" r="1.25" fill="#cf1f30"/>
<circle cx="234.8" cy="299.5" r="1.25" fill="#cf1f30"/>
<circle cx="238.9" cy="300.1" r="1.25" fill="#cf1f30"/>
<circle cx="242.2" cy="298.7" r="1.25" fill="#cf1f30"/>
<circle cx="233.5" cy="302.8" r="1.25" fill="#cf1f30"/>
<circle cx="240.2" cy="302.8" r="1.25" fill="#cf1f30"/>
<circle cx="232.5" cy="305.2" r="1.25" fill="#cf1f30"/>
<circle cx="236.8" cy="306.5" r="1.25" fill="#cf1f30"/>
<circle cx="241.5" cy="305.2" r="1.25" fill="#cf1f30"/>
<text x="285.8" y="219.7" font-size="9.6" font-weight="bold">iii</text>
<text x="324" y="228.7" font-size="9.3" stroke="#000" stroke-width="0.25"><tspan font-style="italic">P</tspan> &lt; .0001</text>
<path d="M317.9,234.7 L323.1,244.8 L328.3,234.7" fill="none" stroke="#000" stroke-width="3.3" stroke-linejoin="miter" stroke-miterlimit="10" stroke-linecap="round"/>
<path d="M356.1,234.7 L361.3,244.8 L366.5,234.7" fill="none" stroke="#000" stroke-width="3.3" stroke-linejoin="miter" stroke-miterlimit="10" stroke-linecap="round"/>
<path d="M323.1,244.6 V233.7 H361.3 V244.6" fill="none" stroke="#000" stroke-width="1.7"/>
<line x1="301.8" y1="248.4" x2="301.8" y2="311.4" stroke="#555" stroke-width="1.1"/>
<line x1="301.3" y1="310.9" x2="385" y2="310.9" stroke="#555" stroke-width="1.1"/>
<line x1="299.6" y1="310.9" x2="301.8" y2="310.9" stroke="#555" stroke-width="1"/>
<text x="299.3" y="314.09" font-size="9" text-anchor="end" stroke="#000" stroke-width="0.25">0</text>
<line x1="299.6" y1="295.2" x2="301.8" y2="295.2" stroke="#555" stroke-width="1"/>
<text x="299.3" y="298.39" font-size="9" text-anchor="end" stroke="#000" stroke-width="0.25">20</text>
<line x1="299.6" y1="279.5" x2="301.8" y2="279.5" stroke="#555" stroke-width="1"/>
<text x="299.3" y="282.69" font-size="9" text-anchor="end" stroke="#000" stroke-width="0.25">40</text>
<line x1="299.6" y1="263.9" x2="301.8" y2="263.9" stroke="#555" stroke-width="1"/>
<text x="299.3" y="267.09" font-size="9" text-anchor="end" stroke="#000" stroke-width="0.25">60</text>
<line x1="299.6" y1="248.4" x2="301.8" y2="248.4" stroke="#555" stroke-width="1"/>
<text x="299.3" y="251.59" font-size="9" text-anchor="end" stroke="#000" stroke-width="0.25">80</text>
<line x1="322.6" y1="310.9" x2="322.6" y2="312.7" stroke="#555" stroke-width="1"/>
<line x1="362.7" y1="310.9" x2="362.7" y2="312.7" stroke="#555" stroke-width="1"/>
<g transform="translate(277.2,310.6) rotate(-90)"><text x="0" y="0" font-size="9.3" textLength="64.7" lengthAdjust="spacingAndGlyphs" stroke="#000" stroke-width="0.25">% of living&#160;&#160;cells</text></g>
<text x="322.9" y="321.5" font-size="9.3" text-anchor="middle" stroke="#000" stroke-width="0.25">Control</text>
<text x="364.5" y="321.5" font-size="9.3" text-anchor="middle" stroke="#000" stroke-width="0.25">CX-4945</text>
<line x1="322.6" y1="257.7" x2="322.6" y2="271" stroke="#111" stroke-width="1.2"/>
<line x1="316.3" y1="257.7" x2="329.2" y2="257.7" stroke="#111" stroke-width="1.4"/>
<line x1="316.3" y1="271" x2="329.2" y2="271" stroke="#111" stroke-width="1.4"/>
<line x1="309.6" y1="264" x2="335.6" y2="264" stroke="#6464e0" stroke-width="1"/>
<circle cx="322.6" cy="251.9" r="1.25" fill="#111"/>
<circle cx="319.4" cy="258.3" r="1.25" fill="#111"/>
<circle cx="326.9" cy="259.4" r="1.25" fill="#111"/>
<circle cx="323.5" cy="260.9" r="1.25" fill="#111"/>
<circle cx="326.3" cy="263" r="1.25" fill="#111"/>
<circle cx="319.7" cy="264.5" r="1.25" fill="#111"/>
<circle cx="323" cy="265.2" r="1.25" fill="#111"/>
<circle cx="318.7" cy="271" r="1.25" fill="#111"/>
<circle cx="322" cy="273.6" r="1.25" fill="#111"/>
<circle cx="325.9" cy="273.6" r="1.25" fill="#111"/>
<line x1="362.7" y1="276.7" x2="362.7" y2="293.8" stroke="#e3262e" stroke-width="1.2"/>
<line x1="356.6" y1="276.7" x2="369.6" y2="276.7" stroke="#e3262e" stroke-width="1.4"/>
<line x1="356.6" y1="293.8" x2="369.6" y2="293.8" stroke="#e3262e" stroke-width="1.4"/>
<line x1="349.7" y1="285.4" x2="376" y2="285.4" stroke="#6464e0" stroke-width="1"/>
<circle cx="359.8" cy="274.6" r="1.25" fill="#cf1f30"/>
<circle cx="366.3" cy="274.6" r="1.25" fill="#cf1f30"/>
<circle cx="362.7" cy="278.5" r="1.25" fill="#cf1f30"/>
<circle cx="364.1" cy="279.6" r="1.25" fill="#cf1f30"/>
<circle cx="362" cy="282.2" r="1.25" fill="#cf1f30"/>
<circle cx="359.5" cy="290" r="1.25" fill="#cf1f30"/>
<circle cx="366.3" cy="290" r="1.25" fill="#cf1f30"/>
<circle cx="362.7" cy="292.6" r="1.25" fill="#cf1f30"/>
<circle cx="364.1" cy="294.8" r="1.25" fill="#cf1f30"/>
<circle cx="361.3" cy="296.9" r="1.25" fill="#cf1f30"/>
<text x="411.6" y="219.7" font-size="9.6" font-weight="bold">iv</text>
<text x="446" y="228.7" font-size="9.3" stroke="#000" stroke-width="0.25"><tspan font-style="italic">P</tspan> &lt; .0001</text>
<path d="M444.6,234.6 L449.8,244.6 L455,234.6" fill="none" stroke="#000" stroke-width="3.3" stroke-linejoin="miter" stroke-miterlimit="10" stroke-linecap="round"/>
<path d="M486.7,234.6 L491.9,244.6 L497.1,234.6" fill="none" stroke="#000" stroke-width="3.3" stroke-linejoin="miter" stroke-miterlimit="10" stroke-linecap="round"/>
<path d="M449.8,244.4 V233.6 H491.9 V244.4" fill="none" stroke="#000" stroke-width="1.7"/>
<line x1="424.7" y1="247.6" x2="424.7" y2="311.5" stroke="#555" stroke-width="1.1"/>
<line x1="424.2" y1="311" x2="514.6" y2="311" stroke="#555" stroke-width="1.1"/>
<line x1="422.5" y1="311" x2="424.7" y2="311" stroke="#555" stroke-width="1"/>
<text x="421" y="314.19" font-size="9" text-anchor="end" stroke="#000" stroke-width="0.25">0</text>
<line x1="422.5" y1="295.2" x2="424.7" y2="295.2" stroke="#555" stroke-width="1"/>
<text x="421" y="298.39" font-size="9" text-anchor="end" stroke="#000" stroke-width="0.25">4</text>
<line x1="422.5" y1="279.3" x2="424.7" y2="279.3" stroke="#555" stroke-width="1"/>
<text x="421" y="282.5" font-size="9" text-anchor="end" stroke="#000" stroke-width="0.25">8</text>
<line x1="422.5" y1="263.4" x2="424.7" y2="263.4" stroke="#555" stroke-width="1"/>
<text x="421" y="266.59" font-size="9" text-anchor="end" stroke="#000" stroke-width="0.25">12</text>
<line x1="422.5" y1="247.6" x2="424.7" y2="247.6" stroke="#555" stroke-width="1"/>
<text x="421" y="250.79" font-size="9" text-anchor="end" stroke="#000" stroke-width="0.25">16</text>
<line x1="448.7" y1="311" x2="448.7" y2="312.8" stroke="#555" stroke-width="1"/>
<line x1="494.5" y1="311" x2="494.5" y2="312.8" stroke="#555" stroke-width="1"/>
<g transform="translate(406.6,327) rotate(-90)"><text x="0" y="0" font-size="9.3" textLength="89.3" lengthAdjust="spacingAndGlyphs" stroke="#000" stroke-width="0.25">Leukemia cell no. ×10</text></g>
<g transform="translate(403.4,237.3) rotate(-90)"><text x="0" y="0" font-size="7.6" stroke="#000" stroke-width="0.25">6</text></g>
<text x="446" y="320.2" font-size="9.3" text-anchor="middle" stroke="#000" stroke-width="0.25">Control</text>
<text x="494" y="320.2" font-size="9.3" text-anchor="middle" stroke="#000" stroke-width="0.25">CX-4945</text>
<line x1="448.7" y1="264.8" x2="448.7" y2="291.8" stroke="#111" stroke-width="1.2"/>
<line x1="441.2" y1="264.8" x2="455.8" y2="264.8" stroke="#111" stroke-width="1.4"/>
<line x1="441.2" y1="291.8" x2="455.8" y2="291.8" stroke="#111" stroke-width="1.4"/>
<line x1="433.8" y1="278.4" x2="464" y2="278.4" stroke="#6464e0" stroke-width="1"/>
<circle cx="448.7" cy="252.4" r="1.25" fill="#111"/>
<circle cx="448.7" cy="259.6" r="1.25" fill="#111"/>
<circle cx="447" cy="275.1" r="1.25" fill="#111"/>
<circle cx="450.8" cy="274.8" r="1.25" fill="#111"/>
<circle cx="448.7" cy="280.1" r="1.25" fill="#111"/>
<circle cx="444.9" cy="283.4" r="1.25" fill="#111"/>
<circle cx="448.7" cy="285.5" r="1.25" fill="#111"/>
<circle cx="452.5" cy="284.4" r="1.25" fill="#111"/>
<circle cx="448.7" cy="295.9" r="1.25" fill="#111"/>
<line x1="494.5" y1="300.9" x2="494.5" y2="305.9" stroke="#e3262e" stroke-width="1.2"/>
<line x1="488.5" y1="300.9" x2="500.5" y2="300.9" stroke="#e3262e" stroke-width="1.4"/>
<line x1="488.5" y1="305.9" x2="500.5" y2="305.9" stroke="#e3262e" stroke-width="1.4"/>
<line x1="480.6" y1="303.2" x2="510.4" y2="303.2" stroke="#6464e0" stroke-width="1"/>
<circle cx="494.5" cy="298.7" r="1.25" fill="#cf1f30"/>
<circle cx="490" cy="300.4" r="1.25" fill="#cf1f30"/>
<circle cx="497.5" cy="300.4" r="1.25" fill="#cf1f30"/>
<circle cx="488.9" cy="302.9" r="1.25" fill="#cf1f30"/>
<circle cx="500.8" cy="302.9" r="1.25" fill="#cf1f30"/>
<circle cx="491.7" cy="304.9" r="1.25" fill="#cf1f30"/>
<circle cx="497.5" cy="304.9" r="1.25" fill="#cf1f30"/>
<circle cx="493.8" cy="307.5" r="1.25" fill="#cf1f30"/>
<text x="20.3" y="392.7" font-size="9.6" font-weight="bold">i</text>
<text x="71.2" y="401.3" font-size="9.3" stroke="#000" stroke-width="0.25"><tspan font-style="italic">P</tspan> &lt; .0001</text>
<path d="M64.2,407.6 L69.4,417.6 L74.6,407.6" fill="none" stroke="#000" stroke-width="3.3" stroke-linejoin="miter" stroke-miterlimit="10" stroke-linecap="round"/>
<path d="M102.9,407.6 L108.1,417.6 L113.3,407.6" fill="none" stroke="#000" stroke-width="3.3" stroke-linejoin="miter" stroke-miterlimit="10" stroke-linecap="round"/>
<path d="M69.4,417.4 V406.6 H108.1 V417.4" fill="none" stroke="#000" stroke-width="1.7"/>
<line x1="46.7" y1="424.9" x2="46.7" y2="503.1" stroke="#8a8a8a" stroke-width="1.1"/>
<line x1="46.2" y1="502.6" x2="128" y2="502.6" stroke="#8a8a8a" stroke-width="1.1"/>
<line x1="44.5" y1="502.4" x2="46.7" y2="502.4" stroke="#8a8a8a" stroke-width="1"/>
<text x="44.6" y="505.59" font-size="9" text-anchor="end" stroke="#000" stroke-width="0.25">0</text>
<line x1="44.5" y1="486.9" x2="46.7" y2="486.9" stroke="#8a8a8a" stroke-width="1"/>
<text x="44.6" y="490.09" font-size="9" text-anchor="end" stroke="#000" stroke-width="0.25">20</text>
<line x1="44.5" y1="471.4" x2="46.7" y2="471.4" stroke="#8a8a8a" stroke-width="1"/>
<text x="44.6" y="474.59" font-size="9" text-anchor="end" stroke="#000" stroke-width="0.25">40</text>
<line x1="44.5" y1="455.9" x2="46.7" y2="455.9" stroke="#8a8a8a" stroke-width="1"/>
<text x="44.6" y="459.09" font-size="9" text-anchor="end" stroke="#000" stroke-width="0.25">60</text>
<line x1="44.5" y1="440.4" x2="46.7" y2="440.4" stroke="#8a8a8a" stroke-width="1"/>
<text x="44.6" y="443.59" font-size="9" text-anchor="end" stroke="#000" stroke-width="0.25">80</text>
<line x1="44.5" y1="424.9" x2="46.7" y2="424.9" stroke="#8a8a8a" stroke-width="1"/>
<text x="44.6" y="428.09" font-size="9" text-anchor="end" stroke="#000" stroke-width="0.25">100</text>
<line x1="67.7" y1="502.6" x2="67.7" y2="504.4" stroke="#8a8a8a" stroke-width="1"/>
<line x1="110" y1="502.6" x2="110" y2="504.4" stroke="#8a8a8a" stroke-width="1"/>
<g transform="translate(22,493) rotate(-90)"><text x="0" y="0" font-size="9.3" textLength="63.1" lengthAdjust="spacingAndGlyphs" stroke="#000" stroke-width="0.25">% of living cells</text></g>
<text x="66.6" y="513.6" font-size="9.3" text-anchor="middle" stroke="#000" stroke-width="0.25">Control</text>
<text x="112.3" y="513.6" font-size="9.3" text-anchor="middle" stroke="#000" stroke-width="0.25">CX-4945</text>
<line x1="67.7" y1="444.5" x2="67.7" y2="473.5" stroke="#333" stroke-width="1"/>
<line x1="61.1" y1="444.5" x2="74.6" y2="444.5" stroke="#333" stroke-width="1"/>
<line x1="61.1" y1="473.5" x2="74.6" y2="473.5" stroke="#333" stroke-width="1"/>
<line x1="54.3" y1="459.2" x2="82" y2="459.2" stroke="#7b7be6" stroke-width="1"/>
<circle cx="67.7" cy="441.9" r="1.25" fill="#111"/>
<circle cx="68.8" cy="446.5" r="1.25" fill="#111"/>
<circle cx="66.9" cy="450.4" r="1.25" fill="#111"/>
<circle cx="67.2" cy="456.5" r="1.25" fill="#111"/>
<circle cx="68.8" cy="457.3" r="1.25" fill="#111"/>
<circle cx="68.2" cy="461.5" r="1.25" fill="#111"/>
<circle cx="68.2" cy="473.2" r="1.25" fill="#111"/>
<circle cx="67.7" cy="485.8" r="1.25" fill="#111"/>
<line x1="110" y1="479.2" x2="110" y2="495" stroke="#ef5a5a" stroke-width="1"/>
<line x1="103.1" y1="479.2" x2="116.9" y2="479.2" stroke="#ef5a5a" stroke-width="1"/>
<line x1="103.1" y1="495" x2="116.9" y2="495" stroke="#ef5a5a" stroke-width="1"/>
<line x1="96.2" y1="487" x2="123.5" y2="487" stroke="#7b7be6" stroke-width="1"/>
<circle cx="110" cy="474.2" r="1.25" fill="#cf1f30"/>
<circle cx="108.2" cy="478.8" r="1.25" fill="#cf1f30"/>
<circle cx="110.8" cy="481.2" r="1.25" fill="#cf1f30"/>
<circle cx="109.2" cy="487" r="1.25" fill="#cf1f30"/>
<circle cx="113.8" cy="486.5" r="1.25" fill="#cf1f30"/>
<circle cx="108.2" cy="489.6" r="1.25" fill="#cf1f30"/>
<circle cx="110.8" cy="493.5" r="1.25" fill="#cf1f30"/>
<circle cx="110" cy="502.7" r="1.25" fill="#cf1f30"/>
<text x="157.6" y="392.7" font-size="9.6" font-weight="bold">ii</text>
<text x="198" y="401.1" font-size="9.3" stroke="#000" stroke-width="0.25"><tspan font-style="italic">P</tspan> &lt; .0001</text>
<path d="M192.3,407.7 L197.5,417.6 L202.7,407.7" fill="none" stroke="#000" stroke-width="3.3" stroke-linejoin="miter" stroke-miterlimit="10" stroke-linecap="round"/>
<path d="M230.4,407.7 L235.6,417.6 L240.8,407.7" fill="none" stroke="#000" stroke-width="3.3" stroke-linejoin="miter" stroke-miterlimit="10" stroke-linecap="round"/>
<path d="M197.5,417.4 V406.7 H235.6 V417.4" fill="none" stroke="#000" stroke-width="1.7"/>
<line x1="173.3" y1="426.5" x2="173.3" y2="503.7" stroke="#8a8a8a" stroke-width="1.1"/>
<line x1="172.8" y1="503.2" x2="255" y2="503.2" stroke="#8a8a8a" stroke-width="1.1"/>
<line x1="171.1" y1="502.8" x2="173.3" y2="502.8" stroke="#8a8a8a" stroke-width="1"/>
<text x="170.5" y="506" font-size="9" text-anchor="end" stroke="#000" stroke-width="0.25">0</text>
<line x1="171.1" y1="477.4" x2="173.3" y2="477.4" stroke="#8a8a8a" stroke-width="1"/>
<text x="170.5" y="480.59" font-size="9" text-anchor="end" stroke="#000" stroke-width="0.25">5</text>
<line x1="171.1" y1="452" x2="173.3" y2="452" stroke="#8a8a8a" stroke-width="1"/>
<text x="170.5" y="455.19" font-size="9" text-anchor="end" stroke="#000" stroke-width="0.25">10</text>
<line x1="171.1" y1="426.5" x2="173.3" y2="426.5" stroke="#8a8a8a" stroke-width="1"/>
<text x="170.5" y="429.69" font-size="9" text-anchor="end" stroke="#000" stroke-width="0.25">15</text>
<line x1="193.8" y1="503.2" x2="193.8" y2="505" stroke="#8a8a8a" stroke-width="1"/>
<line x1="235.3" y1="503.2" x2="235.3" y2="505" stroke="#8a8a8a" stroke-width="1"/>
<g transform="translate(154,510.8) rotate(-90)"><text x="0" y="0" font-size="9.3" textLength="89.2" lengthAdjust="spacingAndGlyphs" stroke="#000" stroke-width="0.25">Leukemia cell no. ×10</text></g>
<g transform="translate(150.8,421.2) rotate(-90)"><text x="0" y="0" font-size="7.6" stroke="#000" stroke-width="0.25">6</text></g>
<text x="196.8" y="513.5" font-size="9.3" text-anchor="middle" stroke="#000" stroke-width="0.25">Control</text>
<text x="240.3" y="513.5" font-size="9.3" text-anchor="middle" stroke="#000" stroke-width="0.25">CX-4945</text>
<line x1="193.8" y1="444.5" x2="193.8" y2="472.2" stroke="#333" stroke-width="1"/>
<line x1="187.3" y1="444.5" x2="200.8" y2="444.5" stroke="#333" stroke-width="1"/>
<line x1="187.3" y1="472.2" x2="200.8" y2="472.2" stroke="#333" stroke-width="1"/>
<line x1="180.4" y1="458.5" x2="207.6" y2="458.5" stroke="#7b7be6" stroke-width="1"/>
<circle cx="194.7" cy="441.9" r="1.25" fill="#111"/>
<circle cx="192.7" cy="444.5" r="1.25" fill="#111"/>
<circle cx="193.8" cy="448.5" r="1.25" fill="#111"/>
<circle cx="191.2" cy="458.4" r="1.25" fill="#111"/>
<circle cx="193.8" cy="459.6" r="1.25" fill="#111"/>
<circle cx="196.5" cy="459.3" r="1.25" fill="#111"/>
<circle cx="193.8" cy="473.2" r="1.25" fill="#111"/>
<circle cx="193.8" cy="481.9" r="1.25" fill="#111"/>
<line x1="235.3" y1="492.2" x2="235.3" y2="500.8" stroke="#ef5a5a" stroke-width="1"/>
<line x1="228.5" y1="492.2" x2="242.4" y2="492.2" stroke="#ef5a5a" stroke-width="1"/>
<line x1="228.5" y1="500.8" x2="242.4" y2="500.8" stroke="#ef5a5a" stroke-width="1"/>
<line x1="221.9" y1="496.5" x2="248.8" y2="496.5" stroke="#7b7be6" stroke-width="1"/>
<circle cx="234.2" cy="489.6" r="1.25" fill="#cf1f30"/>
<circle cx="236.8" cy="491.2" r="1.25" fill="#cf1f30"/>
<circle cx="230.7" cy="496.5" r="1.25" fill="#cf1f30"/>
<circle cx="233.5" cy="497.3" r="1.25" fill="#cf1f30"/>
<circle cx="236.5" cy="496.5" r="1.25" fill="#cf1f30"/>
<circle cx="240.4" cy="495.8" r="1.25" fill="#cf1f30"/>
<circle cx="235" cy="499.6" r="1.25" fill="#cf1f30"/>
<circle cx="233.5" cy="502.7" r="1.25" fill="#cf1f30"/>
<text x="282.1" y="392.7" font-size="9.6" font-weight="bold">iii</text>
<text x="326.7" y="401.8" font-size="9.3" stroke="#000" stroke-width="0.25"><tspan font-style="italic">P</tspan> &lt; .001</text>
<path d="M320.4,407.7 L325.6,417.6 L330.8,407.7" fill="none" stroke="#000" stroke-width="3.3" stroke-linejoin="miter" stroke-miterlimit="10" stroke-linecap="round"/>
<path d="M358.3,407.7 L363.5,417.6 L368.7,407.7" fill="none" stroke="#000" stroke-width="3.3" stroke-linejoin="miter" stroke-miterlimit="10" stroke-linecap="round"/>
<path d="M325.6,417.4 V406.7 H363.5 V417.4" fill="none" stroke="#000" stroke-width="1.7"/>
<line x1="300.7" y1="427.4" x2="300.7" y2="506.3" stroke="#8a8a8a" stroke-width="1.1"/>
<line x1="300.2" y1="505.8" x2="383" y2="505.8" stroke="#8a8a8a" stroke-width="1.1"/>
<line x1="298.5" y1="505.4" x2="300.7" y2="505.4" stroke="#8a8a8a" stroke-width="1"/>
<text x="297.3" y="508.59" font-size="9" text-anchor="end" stroke="#000" stroke-width="0.25">0</text>
<line x1="298.5" y1="485.9" x2="300.7" y2="485.9" stroke="#8a8a8a" stroke-width="1"/>
<text x="297.3" y="489.09" font-size="9" text-anchor="end" stroke="#000" stroke-width="0.25">10</text>
<line x1="298.5" y1="466.4" x2="300.7" y2="466.4" stroke="#8a8a8a" stroke-width="1"/>
<text x="297.3" y="469.59" font-size="9" text-anchor="end" stroke="#000" stroke-width="0.25">20</text>
<line x1="298.5" y1="446.9" x2="300.7" y2="446.9" stroke="#8a8a8a" stroke-width="1"/>
<text x="297.3" y="450.09" font-size="9" text-anchor="end" stroke="#000" stroke-width="0.25">30</text>
<line x1="298.5" y1="427.4" x2="300.7" y2="427.4" stroke="#8a8a8a" stroke-width="1"/>
<text x="297.3" y="430.59" font-size="9" text-anchor="end" stroke="#000" stroke-width="0.25">40</text>
<line x1="321.5" y1="505.8" x2="321.5" y2="507.6" stroke="#8a8a8a" stroke-width="1"/>
<line x1="361.5" y1="505.8" x2="361.5" y2="507.6" stroke="#8a8a8a" stroke-width="1"/>
<g transform="translate(282,492.5) rotate(-90)"><text x="0" y="0" font-size="9.3" textLength="66.1" lengthAdjust="spacingAndGlyphs" stroke="#000" stroke-width="0.25">% of living&#160;&#160;cells</text></g>
<text x="318.1" y="515.2" font-size="9.3" text-anchor="middle" stroke="#000" stroke-width="0.25">Control</text>
<text x="364.9" y="515.2" font-size="9.3" text-anchor="middle" stroke="#000" stroke-width="0.25">CX-4945</text>
<line x1="321.5" y1="459.3" x2="321.5" y2="491.9" stroke="#333" stroke-width="1"/>
<line x1="314.6" y1="459.3" x2="328" y2="459.3" stroke="#333" stroke-width="1"/>
<line x1="314.6" y1="491.9" x2="328" y2="491.9" stroke="#333" stroke-width="1"/>
<line x1="307.7" y1="475.5" x2="335.4" y2="475.5" stroke="#7b7be6" stroke-width="1"/>
<circle cx="321.5" cy="446.1" r="1.25" fill="#111"/>
<circle cx="321.5" cy="458.8" r="1.25" fill="#111"/>
<circle cx="321.2" cy="474.2" r="1.25" fill="#111"/>
<circle cx="321.5" cy="479.6" r="1.25" fill="#111"/>
<circle cx="321.5" cy="485.8" r="1.25" fill="#111"/>
<circle cx="322.3" cy="491.2" r="1.25" fill="#111"/>
<circle cx="320" cy="494.7" r="1.25" fill="#111"/>
<line x1="361.5" y1="490.7" x2="361.5" y2="499.6" stroke="#ef5a5a" stroke-width="1"/>
<line x1="355" y1="490.7" x2="367.7" y2="490.7" stroke="#ef5a5a" stroke-width="1"/>
<line x1="355" y1="499.6" x2="367.7" y2="499.6" stroke="#ef5a5a" stroke-width="1"/>
<line x1="348.5" y1="495.3" x2="375.4" y2="495.3" stroke="#7b7be6" stroke-width="1"/>
<circle cx="358.2" cy="490.7" r="1.25" fill="#cf1f30"/>
<circle cx="360.8" cy="492.7" r="1.25" fill="#cf1f30"/>
<circle cx="364.6" cy="490.7" r="1.25" fill="#cf1f30"/>
<circle cx="357.2" cy="495.3" r="1.25" fill="#cf1f30"/>
<circle cx="360.8" cy="496.2" r="1.25" fill="#cf1f30"/>
<circle cx="366.2" cy="495.3" r="1.25" fill="#cf1f30"/>
<circle cx="359.7" cy="498.1" r="1.25" fill="#cf1f30"/>
<circle cx="363.1" cy="498.1" r="1.25" fill="#cf1f30"/>
<text x="408.8" y="392.7" font-size="9.6" font-weight="bold">iv</text>
<text x="447.3" y="401.8" font-size="9.3" stroke="#000" stroke-width="0.25"><tspan font-style="italic">P</tspan> &lt; .01</text>
<path d="M443.3,407.4 L448.5,417.6 L453.7,407.4" fill="none" stroke="#000" stroke-width="3.3" stroke-linejoin="miter" stroke-miterlimit="10" stroke-linecap="round"/>
<path d="M481.1,407.4 L486.3,417.6 L491.5,407.4" fill="none" stroke="#000" stroke-width="3.3" stroke-linejoin="miter" stroke-miterlimit="10" stroke-linecap="round"/>
<path d="M448.5,417.4 V406.4 H486.3 V417.4" fill="none" stroke="#000" stroke-width="1.7"/>
<line x1="427" y1="425.6" x2="427" y2="504.1" stroke="#8a8a8a" stroke-width="1.1"/>
<line x1="426.5" y1="503.6" x2="512" y2="503.6" stroke="#8a8a8a" stroke-width="1.1"/>
<line x1="424.8" y1="503.9" x2="427" y2="503.9" stroke="#8a8a8a" stroke-width="1"/>
<text x="424.5" y="507.09" font-size="9" text-anchor="end" stroke="#000" stroke-width="0.25">0</text>
<line x1="424.8" y1="477.8" x2="427" y2="477.8" stroke="#8a8a8a" stroke-width="1"/>
<text x="424.5" y="481" font-size="9" text-anchor="end" stroke="#000" stroke-width="0.25">5</text>
<line x1="424.8" y1="451.7" x2="427" y2="451.7" stroke="#8a8a8a" stroke-width="1"/>
<text x="424.5" y="454.89" font-size="9" text-anchor="end" stroke="#000" stroke-width="0.25">10</text>
<line x1="424.8" y1="425.6" x2="427" y2="425.6" stroke="#8a8a8a" stroke-width="1"/>
<text x="424.5" y="428.8" font-size="9" text-anchor="end" stroke="#000" stroke-width="0.25">15</text>
<line x1="447.8" y1="503.6" x2="447.8" y2="505.4" stroke="#8a8a8a" stroke-width="1"/>
<line x1="489.2" y1="503.6" x2="489.2" y2="505.4" stroke="#8a8a8a" stroke-width="1"/>
<g transform="translate(408,510.8) rotate(-90)"><text x="0" y="0" font-size="9.3" textLength="89.8" lengthAdjust="spacingAndGlyphs" stroke="#000" stroke-width="0.25">Leukemia cell no. ×10</text></g>
<g transform="translate(404.8,420.6) rotate(-90)"><text x="0" y="0" font-size="7.6" stroke="#000" stroke-width="0.25">6</text></g>
<text x="446" y="514" font-size="9.3" text-anchor="middle" stroke="#000" stroke-width="0.25">Control</text>
<text x="488.4" y="514" font-size="9.3" text-anchor="middle" stroke="#000" stroke-width="0.25">CX-4945</text>
<line x1="447.8" y1="465.6" x2="447.8" y2="497.5" stroke="#333" stroke-width="1"/>
<line x1="441.2" y1="465.6" x2="454.5" y2="465.6" stroke="#333" stroke-width="1"/>
<line x1="441.2" y1="497.5" x2="454.5" y2="497.5" stroke="#333" stroke-width="1"/>
<line x1="434.3" y1="481.3" x2="461.4" y2="481.3" stroke="#7b7be6" stroke-width="1"/>
<circle cx="447.8" cy="450.3" r="1.25" fill="#111"/>
<circle cx="447.8" cy="468.9" r="1.25" fill="#111"/>
<circle cx="447.8" cy="477.2" r="1.25" fill="#111"/>
<circle cx="447.8" cy="483.8" r="1.25" fill="#111"/>
<circle cx="447" cy="489.6" r="1.25" fill="#111"/>
<circle cx="448.7" cy="490.9" r="1.25" fill="#111"/>
<circle cx="447.5" cy="496.6" r="1.25" fill="#111"/>
<circle cx="449.2" cy="496.6" r="1.25" fill="#111"/>
<line x1="489.2" y1="499.5" x2="489.2" y2="502.5" stroke="#ef5a5a" stroke-width="1"/>
<line x1="483" y1="499.5" x2="495.5" y2="499.5" stroke="#ef5a5a" stroke-width="1"/>
<line x1="483" y1="502.5" x2="495.5" y2="502.5" stroke="#ef5a5a" stroke-width="1"/>
<line x1="476" y1="500.9" x2="502.4" y2="500.9" stroke="#7b7be6" stroke-width="1"/>
<circle cx="480" cy="501.5" r="1.25" fill="#cf1f30"/>
<circle cx="483" cy="500" r="1.25" fill="#cf1f30"/>
<circle cx="486" cy="502" r="1.25" fill="#cf1f30"/>
<circle cx="489" cy="499.5" r="1.25" fill="#cf1f30"/>
<circle cx="492" cy="501.5" r="1.25" fill="#cf1f30"/>
<circle cx="495" cy="500" r="1.25" fill="#cf1f30"/>
<circle cx="484" cy="503" r="1.25" fill="#cf1f30"/>
<circle cx="490" cy="503" r="1.25" fill="#cf1f30"/>
<circle cx="494" cy="503.2" r="1.25" fill="#cf1f30"/>
<circle cx="489" cy="498.8" r="1.25" fill="#cf1f30"/>
<path d="M101.1,574.1 H129.7 V586.6 H134.9 V611.6 H140 V624.2 H142.6 V636.7 H145.1 V649.2 H150.3 V647.6" fill="none" stroke="#d23c3c" stroke-width="1.4" stroke-linejoin="miter"/>
<path d="M36.2,574.1 H101.1 V585.1 H103.5 V596.1 H106.2 V607 H108.8 V618 H111.2 V628.9 H113.8 V639.9 H116.5 V650.8 H119.2 V661.8" fill="none" stroke="#3434c0" stroke-width="1.4" stroke-linejoin="miter"/>
<rect x="36.2" y="563.8" width="130.2" height="98" fill="none" stroke="#000" stroke-width="1.9"/>
<line x1="33.2" y1="574.1" x2="36.2" y2="574.1" stroke="#000" stroke-width="1.1"/>
<text x="32.6" y="577" font-size="8.2" text-anchor="end" stroke="#000" stroke-width="0.25">100</text>
<line x1="33.2" y1="618" x2="36.2" y2="618" stroke="#000" stroke-width="1.1"/>
<text x="32.6" y="620.9" font-size="8.2" text-anchor="end" stroke="#000" stroke-width="0.25">50</text>
<line x1="33.2" y1="661.8" x2="36.2" y2="661.8" stroke="#000" stroke-width="1.1"/>
<text x="32.6" y="664.7" font-size="8.2" text-anchor="end" stroke="#000" stroke-width="0.25">0</text>
<line x1="36.2" y1="661.8" x2="36.2" y2="664.4" stroke="#000" stroke-width="1.1"/>
<text x="36.2" y="673.4" font-size="8.6" text-anchor="middle" stroke="#000" stroke-width="0.25">0</text>
<line x1="62.14" y1="661.8" x2="62.14" y2="664.4" stroke="#000" stroke-width="1.1"/>
<text x="62.14" y="673.4" font-size="8.6" text-anchor="middle" stroke="#000" stroke-width="0.25">10</text>
<line x1="88.08" y1="661.8" x2="88.08" y2="664.4" stroke="#000" stroke-width="1.1"/>
<text x="88.08" y="673.4" font-size="8.6" text-anchor="middle" stroke="#000" stroke-width="0.25">20</text>
<line x1="114.02" y1="661.8" x2="114.02" y2="664.4" stroke="#000" stroke-width="1.1"/>
<text x="114.02" y="673.4" font-size="8.6" text-anchor="middle" stroke="#000" stroke-width="0.25">30</text>
<line x1="139.96" y1="661.8" x2="139.96" y2="664.4" stroke="#000" stroke-width="1.1"/>
<text x="139.96" y="673.4" font-size="8.6" text-anchor="middle" stroke="#000" stroke-width="0.25">40</text>
<line x1="165.9" y1="661.8" x2="165.9" y2="664.4" stroke="#000" stroke-width="1.1"/>
<text x="165.9" y="673.4" font-size="8.6" text-anchor="middle" stroke="#000" stroke-width="0.25">50</text>
<text x="85.4" y="560.2" font-size="10" font-weight="bold" textLength="38.4" lengthAdjust="spacingAndGlyphs">Patient 3</text>
<text x="48.4" y="635" font-size="9.2" stroke="#000" stroke-width="0.25"><tspan font-style="italic">P</tspan> = .0001</text>
<g transform="translate(18.6,637) rotate(-90)"><text x="0" y="0" font-size="9.3" textLength="50.2" lengthAdjust="spacingAndGlyphs" stroke="#000" stroke-width="0.25">Survival (%)</text></g>
<text x="0.6" y="673.8" font-size="9.3" stroke="#000" stroke-width="0.25">Days:</text>
<path d="M36.2,684.2 L103.1,684.2 L99,677.2 L41.1,677.2 Z" fill="#ff2b0f"/>
<path d="M40.44,677.3 L41.5,675.6 L42.56,677.3 Z M42.56,677.3 L43.61,675.6 L44.67,677.3 Z M44.67,677.3 L45.73,675.6 L46.79,677.3 Z M46.79,677.3 L47.84,675.6 L48.9,677.3 Z M48.9,677.3 L49.96,675.6 L51.02,677.3 Z M51.02,677.3 L52.07,675.6 L53.13,677.3 Z M53.13,677.3 L54.19,675.6 L55.25,677.3 Z M55.25,677.3 L56.3,675.6 L57.36,677.3 Z M57.36,677.3 L58.42,675.6 L59.48,677.3 Z M59.48,677.3 L60.53,675.6 L61.59,677.3 Z M61.59,677.3 L62.65,675.6 L63.71,677.3 Z M63.71,677.3 L64.76,675.6 L65.82,677.3 Z M65.82,677.3 L66.88,675.6 L67.94,677.3 Z M67.94,677.3 L68.99,675.6 L70.05,677.3 Z M70.05,677.3 L71.11,675.6 L72.16,677.3 Z M72.16,677.3 L73.22,675.6 L74.28,677.3 Z M74.28,677.3 L75.34,675.6 L76.39,677.3 Z M76.39,677.3 L77.45,675.6 L78.51,677.3 Z M78.51,677.3 L79.57,675.6 L80.62,677.3 Z M80.62,677.3 L81.68,675.6 L82.74,677.3 Z M82.74,677.3 L83.8,675.6 L84.85,677.3 Z M84.85,677.3 L85.91,675.6 L86.97,677.3 Z M86.97,677.3 L88.03,675.6 L89.08,677.3 Z M89.08,677.3 L90.14,675.6 L91.2,677.3 Z M91.2,677.3 L92.26,675.6 L93.31,677.3 Z M93.31,677.3 L94.37,675.6 L95.43,677.3 Z M95.43,677.3 L96.49,675.6 L97.54,677.3 Z M97.54,677.3 L98.6,675.6 L99.66,677.3 Z" fill="#ff2b0f"/>
<rect x="40.9" y="683.6" width="58.3" height="6" fill="#f4442a"/>
<path d="M42.56,685 V689.6 M44.67,685 V689.6 M46.79,685 V689.6 M48.9,685 V689.6 M51.02,685 V689.6 M53.13,685 V689.6 M55.25,685 V689.6 M57.36,685 V689.6 M59.48,685 V689.6 M61.59,685 V689.6 M63.71,685 V689.6 M65.82,685 V689.6 M67.94,685 V689.6 M70.05,685 V689.6 M72.16,685 V689.6 M74.28,685 V689.6 M76.39,685 V689.6 M78.51,685 V689.6 M80.62,685 V689.6 M82.74,685 V689.6 M84.85,685 V689.6 M86.97,685 V689.6 M89.08,685 V689.6 M91.2,685 V689.6 M93.31,685 V689.6 M95.43,685 V689.6 M97.54,685 V689.6" fill="none" stroke="#fff" stroke-width="0.6" stroke-opacity="0.85"/>
<rect x="104.4" y="675.6" width="73.3" height="21.6" fill="#fff" stroke="#000" stroke-width="1.8"/>
<line x1="106.9" y1="681.9" x2="111.5" y2="681.9" stroke="#3434c0" stroke-width="1.4"/>
<line x1="106.9" y1="689.6" x2="111.5" y2="689.6" stroke="#d23c3c" stroke-width="1.4"/>
<text x="114.6" y="684.8" font-size="9.2" stroke="#000" stroke-width="0.25">Control (n=8)</text>
<text x="114.6" y="694.3" font-size="9.2" stroke="#000" stroke-width="0.25">CX-4945 (n=7)</text>
<text x="70" y="698.8" font-size="9.3" text-anchor="middle" stroke="#000" stroke-width="0.25">CX-4945</text>
<text x="68.9" y="709.6" font-size="9.3" text-anchor="middle" stroke="#000" stroke-width="0.25">100 mg/Kg/Day</text>
<path d="M248.8,573.2 H274.6 V584.2 H277 V595.3 H281.5 V606.3 H283.3 V617.4 H287.9 V628.5 H290.2 V639.2 H296.5 V650.1 H307.3 V648.5" fill="none" stroke="#d23c3c" stroke-width="1.4" stroke-linejoin="miter"/>
<path d="M198.6,573.2 H248.8 V584.1 H259.7 V595 H261.9 V606.3 H266.3 V617.4 H270.8 V628.3 H272.7 V639.2 H277.3 V650.1 H285.7 V660.5" fill="none" stroke="#3434c0" stroke-width="1.4" stroke-linejoin="miter"/>
<rect x="198.6" y="563.1" width="131" height="97.4" fill="none" stroke="#000" stroke-width="1.9"/>
<line x1="195.6" y1="573.2" x2="198.6" y2="573.2" stroke="#000" stroke-width="1.1"/>
<text x="196.4" y="576.1" font-size="8.2" text-anchor="end" stroke="#000" stroke-width="0.25">100</text>
<line x1="195.6" y1="617.6" x2="198.6" y2="617.6" stroke="#000" stroke-width="1.1"/>
<text x="196.4" y="620.5" font-size="8.2" text-anchor="end" stroke="#000" stroke-width="0.25">50</text>
<line x1="195.6" y1="660.5" x2="198.6" y2="660.5" stroke="#000" stroke-width="1.1"/>
<text x="196.4" y="663.4" font-size="8.2" text-anchor="end" stroke="#000" stroke-width="0.25">0</text>
<line x1="198.6" y1="660.5" x2="198.6" y2="663.1" stroke="#000" stroke-width="1.1"/>
<text x="198.6" y="673.4" font-size="8.6" text-anchor="middle" stroke="#000" stroke-width="0.25">0</text>
<line x1="242.3" y1="660.5" x2="242.3" y2="663.1" stroke="#000" stroke-width="1.1"/>
<text x="242.3" y="673.4" font-size="8.6" text-anchor="middle" stroke="#000" stroke-width="0.25">20</text>
<line x1="286" y1="660.5" x2="286" y2="663.1" stroke="#000" stroke-width="1.1"/>
<text x="286" y="673.4" font-size="8.6" text-anchor="middle" stroke="#000" stroke-width="0.25">40</text>
<line x1="329.7" y1="660.5" x2="329.7" y2="663.1" stroke="#000" stroke-width="1.1"/>
<text x="329.7" y="673.4" font-size="8.6" text-anchor="middle" stroke="#000" stroke-width="0.25">60</text>
<text x="246.8" y="559.8" font-size="10" font-weight="bold" textLength="39.2" lengthAdjust="spacingAndGlyphs">Patient 4</text>
<text x="210.8" y="634.2" font-size="9.2" stroke="#000" stroke-width="0.25"><tspan font-style="italic">P</tspan> = .0032</text>
<path d="M199.2,684.2 L250.4,684.2 L246.8,677.2 L202,677.2 Z" fill="#ff2b0f"/>
<path d="M201.24,677.3 L202.4,675.6 L203.56,677.3 Z M203.56,677.3 L204.72,675.6 L205.87,677.3 Z M205.87,677.3 L207.03,675.6 L208.19,677.3 Z M208.19,677.3 L209.35,675.6 L210.51,677.3 Z M210.51,677.3 L211.66,675.6 L212.82,677.3 Z M212.82,677.3 L213.98,675.6 L215.14,677.3 Z M215.14,677.3 L216.29,675.6 L217.45,677.3 Z M217.45,677.3 L218.61,675.6 L219.77,677.3 Z M219.77,677.3 L220.93,675.6 L222.08,677.3 Z M222.08,677.3 L223.24,675.6 L224.4,677.3 Z M224.4,677.3 L225.56,675.6 L226.72,677.3 Z M226.72,677.3 L227.87,675.6 L229.03,677.3 Z M229.03,677.3 L230.19,675.6 L231.35,677.3 Z M231.35,677.3 L232.51,675.6 L233.66,677.3 Z M233.66,677.3 L234.82,675.6 L235.98,677.3 Z M235.98,677.3 L237.14,675.6 L238.29,677.3 Z M238.29,677.3 L239.45,675.6 L240.61,677.3 Z M240.61,677.3 L241.77,675.6 L242.93,677.3 Z M242.93,677.3 L244.08,675.6 L245.24,677.3 Z M245.24,677.3 L246.4,675.6 L247.56,677.3 Z" fill="#ff2b0f"/>
<rect x="201.8" y="683.6" width="45.2" height="6" fill="#f4442a"/>
<path d="M203.56,685 V689.6 M205.87,685 V689.6 M208.19,685 V689.6 M210.51,685 V689.6 M212.82,685 V689.6 M215.14,685 V689.6 M217.45,685 V689.6 M219.77,685 V689.6 M222.08,685 V689.6 M224.4,685 V689.6 M226.72,685 V689.6 M229.03,685 V689.6 M231.35,685 V689.6 M233.66,685 V689.6 M235.98,685 V689.6 M238.29,685 V689.6 M240.61,685 V689.6 M242.93,685 V689.6 M245.24,685 V689.6" fill="none" stroke="#fff" stroke-width="0.6" stroke-opacity="0.85"/>
<rect x="260.6" y="674.5" width="75.6" height="21.6" fill="#fff" stroke="#000" stroke-width="1.8"/>
<line x1="263.3" y1="681.4" x2="268.8" y2="681.4" stroke="#3434c0" stroke-width="1.4"/>
<line x1="263.3" y1="689.2" x2="268.8" y2="689.2" stroke="#d23c3c" stroke-width="1.4"/>
<text x="271.4" y="683.8" font-size="9.2" stroke="#000" stroke-width="0.25">Control (n=8)</text>
<text x="271.4" y="692.8" font-size="9.2" stroke="#000" stroke-width="0.25">CX-4945 (n=7)</text>
<text x="225" y="698.6" font-size="9.3" text-anchor="middle" stroke="#000" stroke-width="0.25">CX-4945</text>
<text x="225.2" y="709.6" font-size="9.3" text-anchor="middle" stroke="#000" stroke-width="0.25">100 mg/Kg/Day</text>
<path d="M437.3,572.5 H465.4 V583.4 H467.6 V594.3 H474 V605.2 H478.7 V627 H483 V638 H485.3 V659.6" fill="none" stroke="#d23c3c" stroke-width="1.4" stroke-linejoin="miter"/>
<path d="M366,572.5 H437.3 V583.4 H439.1 V594.3 H441.2 V605.2 H443.8 V627 H448.1 V638 H450.2 V648.9 H465.4 V659.6" fill="none" stroke="#3434c0" stroke-width="1.4" stroke-linejoin="miter"/>
<rect x="366" y="562.4" width="130.4" height="97.2" fill="none" stroke="#000" stroke-width="1.9"/>
<line x1="363" y1="572.5" x2="366" y2="572.5" stroke="#000" stroke-width="1.1"/>
<text x="362.4" y="575.4" font-size="8.2" text-anchor="end" stroke="#000" stroke-width="0.25">100</text>
<line x1="363" y1="616.3" x2="366" y2="616.3" stroke="#000" stroke-width="1.1"/>
<text x="362.4" y="619.2" font-size="8.2" text-anchor="end" stroke="#000" stroke-width="0.25">50</text>
<line x1="363" y1="659.6" x2="366" y2="659.6" stroke="#000" stroke-width="1.1"/>
<text x="362.4" y="662.5" font-size="8.2" text-anchor="end" stroke="#000" stroke-width="0.25">0</text>
<line x1="366" y1="659.6" x2="366" y2="662.2" stroke="#000" stroke-width="1.1"/>
<text x="366" y="673.4" font-size="8.6" text-anchor="middle" stroke="#000" stroke-width="0.25">0</text>
<line x1="409.48" y1="659.6" x2="409.48" y2="662.2" stroke="#000" stroke-width="1.1"/>
<text x="409.48" y="673.4" font-size="8.6" text-anchor="middle" stroke="#000" stroke-width="0.25">20</text>
<line x1="452.96" y1="659.6" x2="452.96" y2="662.2" stroke="#000" stroke-width="1.1"/>
<text x="452.96" y="673.4" font-size="8.6" text-anchor="middle" stroke="#000" stroke-width="0.25">40</text>
<line x1="496.44" y1="659.6" x2="496.44" y2="662.2" stroke="#000" stroke-width="1.1"/>
<text x="496.44" y="673.4" font-size="8.6" text-anchor="middle" stroke="#000" stroke-width="0.25">60</text>
<text x="413.4" y="559.8" font-size="10" font-weight="bold" textLength="39.1" lengthAdjust="spacingAndGlyphs">Patient 5</text>
<text x="377.4" y="632.6" font-size="9.2" stroke="#000" stroke-width="0.25"><tspan font-style="italic">P</tspan> = .0002</text>
<g transform="translate(348.6,635.4) rotate(-90)"><text x="0" y="0" font-size="9.3" textLength="50.2" lengthAdjust="spacingAndGlyphs" stroke="#000" stroke-width="0.25">Survival (%)</text></g>
<path d="M364.2,684.2 L414.6,684.2 L411.6,677.2 L367.2,677.2 Z" fill="#ff2b0f"/>
<path d="M366.45,677.3 L367.6,675.6 L368.75,677.3 Z M368.75,677.3 L369.89,675.6 L371.04,677.3 Z M371.04,677.3 L372.19,675.6 L373.34,677.3 Z M373.34,677.3 L374.48,675.6 L375.63,677.3 Z M375.63,677.3 L376.78,675.6 L377.93,677.3 Z M377.93,677.3 L379.07,675.6 L380.22,677.3 Z M380.22,677.3 L381.37,675.6 L382.52,677.3 Z M382.52,677.3 L383.66,675.6 L384.81,677.3 Z M384.81,677.3 L385.96,675.6 L387.11,677.3 Z M387.11,677.3 L388.25,675.6 L389.4,677.3 Z M389.4,677.3 L390.55,675.6 L391.69,677.3 Z M391.69,677.3 L392.84,675.6 L393.99,677.3 Z M393.99,677.3 L395.14,675.6 L396.28,677.3 Z M396.28,677.3 L397.43,675.6 L398.58,677.3 Z M398.58,677.3 L399.73,675.6 L400.87,677.3 Z M400.87,677.3 L402.02,675.6 L403.17,677.3 Z M403.17,677.3 L404.32,675.6 L405.46,677.3 Z M405.46,677.3 L406.61,675.6 L407.76,677.3 Z M407.76,677.3 L408.91,675.6 L410.05,677.3 Z M410.05,677.3 L411.2,675.6 L412.35,677.3 Z" fill="#ff2b0f"/>
<rect x="367" y="683.6" width="44.8" height="6" fill="#f4442a"/>
<path d="M368.75,685 V689.6 M371.04,685 V689.6 M373.34,685 V689.6 M375.63,685 V689.6 M377.93,685 V689.6 M380.22,685 V689.6 M382.52,685 V689.6 M384.81,685 V689.6 M387.11,685 V689.6 M389.4,685 V689.6 M391.69,685 V689.6 M393.99,685 V689.6 M396.28,685 V689.6 M398.58,685 V689.6 M400.87,685 V689.6 M403.17,685 V689.6 M405.46,685 V689.6 M407.76,685 V689.6 M410.05,685 V689.6" fill="none" stroke="#fff" stroke-width="0.6" stroke-opacity="0.85"/>
<rect x="422" y="673.4" width="73.4" height="21.4" fill="#fff" stroke="#000" stroke-width="1.8"/>
<line x1="424.5" y1="680.2" x2="431.4" y2="680.2" stroke="#3434c0" stroke-width="1.4"/>
<line x1="424.5" y1="687.8" x2="431.4" y2="687.8" stroke="#d23c3c" stroke-width="1.4"/>
<text x="432" y="683.3" font-size="9.2" stroke="#000" stroke-width="0.25">Control (n=8)</text>
<text x="432" y="692.4" font-size="9.2" stroke="#000" stroke-width="0.25">CX-4945 (n=7)</text>
<text x="391.6" y="698.6" font-size="9.3" text-anchor="middle" stroke="#000" stroke-width="0.25">CX-4945</text>
<text x="391.9" y="709.6" font-size="9.3" text-anchor="middle" stroke="#000" stroke-width="0.25">100 mg/Kg/Day</text>
<defs>
<linearGradient id="gbox" x1="0" y1="0" x2="0" y2="1"><stop offset="0" stop-color="#e6eef9"/><stop offset="0.75" stop-color="#d5e2f3"/><stop offset="1" stop-color="#b9c8dc"/></linearGradient>
<linearGradient id="gyel" x1="0" y1="0" x2="0" y2="1"><stop offset="0" stop-color="#f7ee3a"/><stop offset="1" stop-color="#e6d400"/></linearGradient>
<radialGradient id="ggreen" cx="0.45" cy="0.4" r="0.65"><stop offset="0" stop-color="#c9e57a"/><stop offset="1" stop-color="#9cc63c"/></radialGradient>
<radialGradient id="gblue" cx="0.5" cy="0.4" r="0.7"><stop offset="0" stop-color="#5a9af4"/><stop offset="1" stop-color="#3272e2"/></radialGradient>
<radialGradient id="gred" cx="0.5" cy="0.5" r="0.6"><stop offset="0" stop-color="#ff3a1a"/><stop offset="1" stop-color="#d41a0a"/></radialGradient>
</defs>
<text x="77" y="775.6" font-size="17" font-weight="bold">G</text>
<rect x="159.3" y="728.7" width="53.1" height="48.5" fill="#bfbfbf"/>
<rect x="158.1" y="727.3" width="53.1" height="48.5" fill="url(#gbox)" stroke="#1a1a1a" stroke-width="1.6"/>
<text x="184.6" y="736.2" font-size="7.45" font-weight="bold" text-anchor="middle" fill="#2b2b3a">Genetic</text>
<text x="184.6" y="744.8" font-size="7.45" font-weight="bold" text-anchor="middle" fill="#2b2b3a">Inactivation</text>
<text x="185.2" y="754.5" font-size="8.6" font-weight="bold" text-anchor="middle" fill="#1b2ea6" font-style="italic">IKZF1</text>
<text x="185" y="763.2" font-size="7.2" font-weight="bold" text-anchor="middle" fill="#e0323e">Deletion or</text>
<text x="184.9" y="771.4" font-size="7.1" font-weight="bold" text-anchor="middle" fill="#e0323e">Mutation</text>
<text x="213" y="752.5" font-size="7.5" font-weight="bold" fill="#222">and</text>
<text x="212.8" y="762.2" font-size="7.5" font-weight="bold" fill="#222">/or</text>
<rect x="231.2" y="727.9" width="51.2" height="48.6" fill="#bfbfbf"/>
<rect x="230" y="726.5" width="51.2" height="48.6" fill="url(#gbox)" stroke="#1a1a1a" stroke-width="1.6"/>
<text x="255.4" y="736.2" font-size="7.3" font-weight="bold" text-anchor="middle" fill="#2b2b3a">Functional</text>
<text x="256.2" y="744.6" font-size="7.2" font-weight="bold" text-anchor="middle" fill="#2b2b3a">Inactivation</text>
<line x1="240" y1="768.6" x2="240" y2="762" stroke="#111" stroke-width="1.5"/>
<path d="M236.8,762.8 L243.2,762.8 L240,757.8 Z" fill="#111"/>
<path d="M275.85,756.74 L270.13,760.37 L273.62,762.47 L269.73,764 L273.85,768.13 L267.65,767.12 L267.56,769.96 L264.29,769.1 L263.25,775.57 L260.31,769.56 L256.99,772.36 L256.51,768.4 L251.41,770.17 L253.64,765.86 L246.55,766.06 L252.27,762.43 L248.78,760.33 L252.67,758.8 L248.55,754.67 L254.75,755.68 L254.84,752.84 L258.11,753.7 L259.15,747.23 L262.09,753.24 L265.41,750.44 L265.89,754.4 L270.99,752.63 L268.76,756.94 Z" fill="url(#gred)" stroke="#3a0804" stroke-width="0.9"/>
<text x="261.2" y="763.8" font-size="7" font-weight="bold" text-anchor="middle" fill="#fff4e8">CK2</text>
<line x1="187.5" y1="775.8" x2="187.5" y2="801.4" stroke="#111" stroke-width="1.5"/>
<path d="M187.5,804.4 L183.9,798.6 L184.8,797.5 L187.5,801.5 L190.2,797.5 L191.1,798.6 Z" fill="#111"/>
<line x1="254.4" y1="775.1" x2="254.4" y2="800.6" stroke="#111" stroke-width="1.5"/>
<path d="M254.4,803.6 L250.8,797.8 L251.7,796.7 L254.4,800.7 L257.1,796.7 L258,797.8 Z" fill="#111"/>
<text x="128.2" y="801.3" font-size="9.3" font-weight="bold" text-anchor="middle" fill="#111">Functional</text>
<ellipse cx="127.5" cy="816.2" rx="33.6" ry="7.9" fill="url(#gblue)" stroke="#0b1d55" stroke-width="1.3"/>
<text x="127.9" y="819.6" font-size="9.4" font-weight="bold" text-anchor="middle" fill="#fff">Ikaros</text>
<line x1="168" y1="816.3" x2="274.9" y2="816.3" stroke="#111" stroke-width="1.5"/>
<path d="M277.9,816.3 L272.1,819.9 L271,819 L275,816.3 L271,813.6 L272.1,812.7 Z" fill="#111"/>
<text x="313.5" y="785.4" font-size="9.2" font-weight="bold" text-anchor="middle" fill="#111">Impaired</text>
<text x="313.5" y="795.6" font-size="9.1" font-weight="bold" text-anchor="middle" fill="#111">Function</text>
<path d="M351.6,813.2 L341.36,814.22 L350.82,816.44 L340.25,816.23 L348.52,819.55 L338.08,818.1 L344.8,822.37 L334.95,819.76 L339.82,824.79 L330.99,821.13 L333.8,826.71 L326.37,822.15 L327,828.04 L321.3,822.79 L319.72,828.71 L316,823 L312.28,828.71 L310.7,822.79 L305,828.04 L305.63,822.15 L298.2,826.71 L301.01,821.13 L292.18,824.79 L297.05,819.76 L287.2,822.37 L293.92,818.1 L283.48,819.55 L291.75,816.23 L281.18,816.44 L290.64,814.22 L280.4,813.2 L290.64,812.18 L281.18,809.96 L291.75,810.17 L283.48,806.85 L293.92,808.3 L287.2,804.03 L297.05,806.64 L292.18,801.61 L301.01,805.27 L298.2,799.69 L305.63,804.25 L305,798.36 L310.7,803.61 L312.28,797.69 L316,803.4 L319.72,797.69 L321.3,803.61 L327,798.36 L326.37,804.25 L333.8,799.69 L330.99,805.27 L339.82,801.61 L334.95,806.64 L344.8,804.03 L338.08,808.3 L348.52,806.85 L340.25,810.17 L350.82,809.96 L341.36,812.18 Z" fill="#1b3785" stroke="#0a1236" stroke-width="0.6"/>
<ellipse cx="315.8" cy="813.6" rx="26.2" ry="10.4" fill="url(#gblue)"/>
<text x="316.3" y="817.1" font-size="9.4" font-weight="bold" text-anchor="middle" fill="#eef4ff">Ikaros</text>
<line x1="351" y1="813.8" x2="376.2" y2="813.8" stroke="#111" stroke-width="1.5"/>
<path d="M379.2,813.8 L373.4,817.4 L372.3,816.5 L376.3,813.8 L372.3,811.1 L373.4,810.2 Z" fill="#111"/>
<rect x="386.7" y="806.4" width="64.8" height="21.9" fill="#bfbfbf"/>
<rect x="385.5" y="805" width="64.8" height="21.9" fill="url(#gbox)" stroke="#1a1a1a" stroke-width="1.6"/>
<text x="419.9" y="819.4" font-size="9.2" font-weight="bold" text-anchor="middle" fill="#15152a">Leukemia</text>
<text x="76.4" y="862.6" font-size="17" font-weight="bold">H</text>
<rect x="121.4" y="872.9" width="37.5" height="22.2" fill="#bfbfbf"/>
<rect x="120.2" y="871.5" width="37.5" height="22.2" fill="url(#gyel)" stroke="#1a1a1a" stroke-width="1.4"/>
<text x="138.9" y="881.2" font-size="7.6" font-weight="bold" text-anchor="middle" fill="#222">CK2</text>
<text x="138.5" y="889.8" font-size="7.2" font-weight="bold" text-anchor="middle" fill="#222">Inhibitor</text>
<line x1="137.9" y1="893.7" x2="137.9" y2="905.6" stroke="#333" stroke-width="1.5"/>
<line x1="131.6" y1="905.6" x2="144.2" y2="905.6" stroke="#333" stroke-width="1.7"/>
<path d="M108.6,926.1 L118,923.2 L111.5,918.9 L120.9,918.1 L122.3,912.6 L128.8,915.3 L138.2,910.7 L141.8,913.8 L152.6,907.8 L151.4,913.8 L162.9,912.2 L158.4,916.7 L174.4,916.7 L162,921 L165.8,926.1 L159.1,926.8 L162.9,932 L152.6,930.4 L151.2,935.7 L143.9,931.8 L136,935.7 L130.2,932.6 L123,937.1 L121.6,931.8 L112.2,932 L118.7,928.2 Z" fill="url(#gred)" stroke="#5a0a04" stroke-width="0.8"/>
<text x="138.9" y="926.6" font-size="9.8" font-weight="bold" text-anchor="middle" fill="#fff1e0">CK2</text>
<line x1="174" y1="920.6" x2="190.4" y2="920.6" stroke="#222" stroke-width="1.5"/>
<line x1="190.4" y1="925" x2="190.4" y2="916.2" stroke="#222" stroke-width="1.7"/>
<ellipse cx="227.1" cy="920.5" rx="33.5" ry="8.6" fill="url(#gblue)" stroke="#0b1d55" stroke-width="1.3"/>
<text x="228.2" y="924" font-size="9.4" font-weight="bold" text-anchor="middle" fill="#fff">Ikaros</text>
<line x1="263.5" y1="911.6" x2="276.6" y2="902.8" stroke="#222" stroke-width="1.5"/>
<line x1="279.39" y1="906.95" x2="273.81" y2="898.65" stroke="#222" stroke-width="1.7"/>
<line x1="264.4" y1="926.6" x2="277" y2="935.8" stroke="#222" stroke-width="1.5"/>
<line x1="274.05" y1="939.84" x2="279.95" y2="931.76" stroke="#222" stroke-width="1.7"/>
<ellipse cx="301.5" cy="895.9" rx="19.0" ry="17.6" fill="url(#ggreen)" stroke="#2c3a10" stroke-width="1.7"/>
<text x="302.9" y="892.3" font-size="9" font-weight="bold" text-anchor="middle" fill="#1f2a0a">Cell</text>
<text x="302.8" y="901.9" font-size="9" font-weight="bold" text-anchor="middle" fill="#1f2a0a">Cycle</text>
<path d="M280.2,942.2 L286.2,930 L318.4,930 L323.8,942.2 L318.4,954.6 L286.2,954.6 Z" fill="url(#ggreen)" stroke="#2c3a10" stroke-width="1.6"/>
<text x="302.9" y="938.6" font-size="7.8" font-weight="bold" text-anchor="middle" fill="#1f2a0a">PI3K</text>
<text x="302.9" y="948.3" font-size="8" font-weight="bold" text-anchor="middle" fill="#1f2a0a">Pathway</text>
<line x1="327.2" y1="896.9" x2="347.67" y2="909.98" stroke="#111" stroke-width="1.5"/>
<path d="M350.2,911.6 L343.37,911.51 L342.93,910.16 L347.76,910.04 L345.84,905.61 L347.25,905.44 Z" fill="#111"/>
<line x1="327.2" y1="940.5" x2="347.63" y2="928.15" stroke="#111" stroke-width="1.5"/>
<path d="M350.2,926.6 L347.1,932.68 L345.69,932.48 L347.72,928.1 L342.9,927.86 L343.37,926.52 Z" fill="#111"/>
<rect x="354.9" y="908.6" width="64.6" height="22" fill="#bfbfbf"/>
<rect x="353.7" y="907.2" width="64.6" height="22" fill="url(#gbox)" stroke="#1a1a1a" stroke-width="1.6"/>
<text x="391.8" y="917.1" font-size="7.55" font-weight="bold" text-anchor="middle" fill="#15152a">Cellular</text>
<text x="392.7" y="926.4" font-size="7.15" font-weight="bold" text-anchor="middle" fill="#15152a">Proliferation</text>
<line x1="354.2" y1="906.8" x2="369.8" y2="931.4" stroke="#000" stroke-width="3.2"/>
<line x1="369.8" y1="906.8" x2="354.2" y2="931.4" stroke="#000" stroke-width="3.2"/>
</svg>
</body></html>
